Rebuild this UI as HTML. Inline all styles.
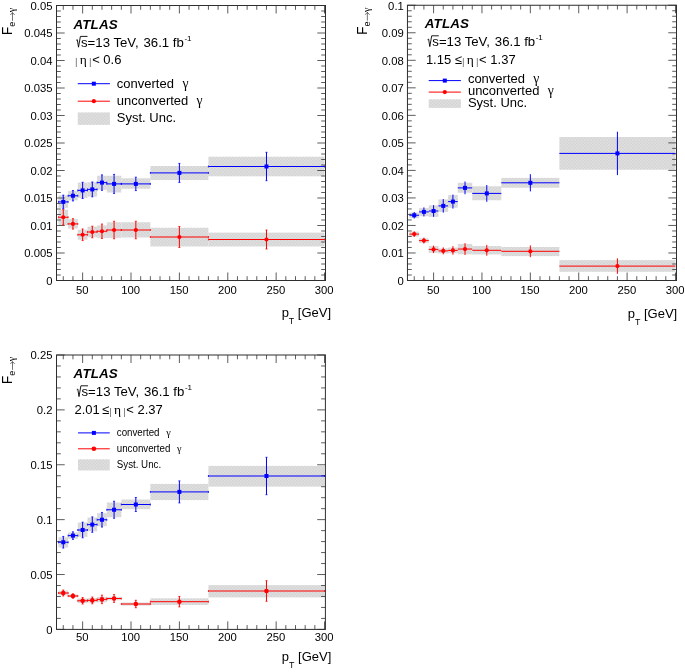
<!DOCTYPE html>
<html><head><meta charset="utf-8"><title>Electron to photon fake rates</title>
<style>html,body{margin:0;padding:0;background:#fff;}svg{display:block;}</style></head><body>
<svg width="685" height="672" viewBox="0 0 685 672" style="will-change:transform;opacity:0.999">
<defs><pattern id="hat" width="3.2" height="3.2" patternUnits="userSpaceOnUse"><rect width="3.2" height="3.2" fill="#d5d5d5"/><rect width="1.6" height="1.6" fill="#dfdfdf"/><rect x="1.6" y="1.6" width="1.6" height="1.6" fill="#dfdfdf"/></pattern></defs>
<rect width="685" height="672" fill="#fff"/>
<g>
<rect x="58.44" y="195.4" width="9.68" height="12.5" fill="url(#hat)"/>
<rect x="68.11" y="191" width="9.68" height="9.4" fill="url(#hat)"/>
<rect x="77.79" y="182.6" width="9.68" height="15.3" fill="url(#hat)"/>
<rect x="87.46" y="182.25" width="9.68" height="14.35" fill="url(#hat)"/>
<rect x="97.14" y="175.75" width="9.68" height="14" fill="url(#hat)"/>
<rect x="106.82" y="175.75" width="14.51" height="16.75" fill="url(#hat)"/>
<rect x="121.33" y="178.25" width="29.03" height="10.5" fill="url(#hat)"/>
<rect x="150.36" y="166" width="58.06" height="14" fill="url(#hat)"/>
<rect x="208.41" y="156.7" width="116.11" height="19.6" fill="url(#hat)"/>
<rect x="58.44" y="209.75" width="9.68" height="15.65" fill="url(#hat)"/>
<rect x="68.11" y="219.1" width="9.68" height="9.4" fill="url(#hat)"/>
<rect x="77.79" y="229.75" width="9.68" height="10" fill="url(#hat)"/>
<rect x="87.46" y="226.6" width="9.68" height="10.65" fill="url(#hat)"/>
<rect x="97.14" y="225.4" width="9.68" height="12.5" fill="url(#hat)"/>
<rect x="106.82" y="222.25" width="14.51" height="15.65" fill="url(#hat)"/>
<rect x="121.33" y="222.25" width="29.03" height="15.25" fill="url(#hat)"/>
<rect x="150.36" y="227.75" width="58.06" height="18.75" fill="url(#hat)"/>
<rect x="208.41" y="232.6" width="116.11" height="13.9" fill="url(#hat)"/>
<rect x="56.5" y="5.5" width="269" height="275" fill="none" stroke="#2e2e2e" stroke-width="1.0"/>
<line x1="63.27" y1="280.5" x2="63.27" y2="276.2" stroke="#2e2e2e" stroke-width="0.78" />
<line x1="63.27" y1="5.5" x2="63.27" y2="9.8" stroke="#2e2e2e" stroke-width="0.78" />
<line x1="72.95" y1="280.5" x2="72.95" y2="276.2" stroke="#2e2e2e" stroke-width="0.78" />
<line x1="72.95" y1="5.5" x2="72.95" y2="9.8" stroke="#2e2e2e" stroke-width="0.78" />
<line x1="82.63" y1="280.5" x2="82.63" y2="272.5" stroke="#2e2e2e" stroke-width="0.78" />
<line x1="82.63" y1="5.5" x2="82.63" y2="13.5" stroke="#2e2e2e" stroke-width="0.78" />
<line x1="92.3" y1="280.5" x2="92.3" y2="276.2" stroke="#2e2e2e" stroke-width="0.78" />
<line x1="92.3" y1="5.5" x2="92.3" y2="9.8" stroke="#2e2e2e" stroke-width="0.78" />
<line x1="101.98" y1="280.5" x2="101.98" y2="276.2" stroke="#2e2e2e" stroke-width="0.78" />
<line x1="101.98" y1="5.5" x2="101.98" y2="9.8" stroke="#2e2e2e" stroke-width="0.78" />
<line x1="111.65" y1="280.5" x2="111.65" y2="276.2" stroke="#2e2e2e" stroke-width="0.78" />
<line x1="111.65" y1="5.5" x2="111.65" y2="9.8" stroke="#2e2e2e" stroke-width="0.78" />
<line x1="121.33" y1="280.5" x2="121.33" y2="276.2" stroke="#2e2e2e" stroke-width="0.78" />
<line x1="121.33" y1="5.5" x2="121.33" y2="9.8" stroke="#2e2e2e" stroke-width="0.78" />
<line x1="131.01" y1="280.5" x2="131.01" y2="272.5" stroke="#2e2e2e" stroke-width="0.78" />
<line x1="131.01" y1="5.5" x2="131.01" y2="13.5" stroke="#2e2e2e" stroke-width="0.78" />
<line x1="140.68" y1="280.5" x2="140.68" y2="276.2" stroke="#2e2e2e" stroke-width="0.78" />
<line x1="140.68" y1="5.5" x2="140.68" y2="9.8" stroke="#2e2e2e" stroke-width="0.78" />
<line x1="150.36" y1="280.5" x2="150.36" y2="276.2" stroke="#2e2e2e" stroke-width="0.78" />
<line x1="150.36" y1="5.5" x2="150.36" y2="9.8" stroke="#2e2e2e" stroke-width="0.78" />
<line x1="160.03" y1="280.5" x2="160.03" y2="276.2" stroke="#2e2e2e" stroke-width="0.78" />
<line x1="160.03" y1="5.5" x2="160.03" y2="9.8" stroke="#2e2e2e" stroke-width="0.78" />
<line x1="169.71" y1="280.5" x2="169.71" y2="276.2" stroke="#2e2e2e" stroke-width="0.78" />
<line x1="169.71" y1="5.5" x2="169.71" y2="9.8" stroke="#2e2e2e" stroke-width="0.78" />
<line x1="179.39" y1="280.5" x2="179.39" y2="272.5" stroke="#2e2e2e" stroke-width="0.78" />
<line x1="179.39" y1="5.5" x2="179.39" y2="13.5" stroke="#2e2e2e" stroke-width="0.78" />
<line x1="189.06" y1="280.5" x2="189.06" y2="276.2" stroke="#2e2e2e" stroke-width="0.78" />
<line x1="189.06" y1="5.5" x2="189.06" y2="9.8" stroke="#2e2e2e" stroke-width="0.78" />
<line x1="198.74" y1="280.5" x2="198.74" y2="276.2" stroke="#2e2e2e" stroke-width="0.78" />
<line x1="198.74" y1="5.5" x2="198.74" y2="9.8" stroke="#2e2e2e" stroke-width="0.78" />
<line x1="208.41" y1="280.5" x2="208.41" y2="276.2" stroke="#2e2e2e" stroke-width="0.78" />
<line x1="208.41" y1="5.5" x2="208.41" y2="9.8" stroke="#2e2e2e" stroke-width="0.78" />
<line x1="218.09" y1="280.5" x2="218.09" y2="276.2" stroke="#2e2e2e" stroke-width="0.78" />
<line x1="218.09" y1="5.5" x2="218.09" y2="9.8" stroke="#2e2e2e" stroke-width="0.78" />
<line x1="227.77" y1="280.5" x2="227.77" y2="272.5" stroke="#2e2e2e" stroke-width="0.78" />
<line x1="227.77" y1="5.5" x2="227.77" y2="13.5" stroke="#2e2e2e" stroke-width="0.78" />
<line x1="237.44" y1="280.5" x2="237.44" y2="276.2" stroke="#2e2e2e" stroke-width="0.78" />
<line x1="237.44" y1="5.5" x2="237.44" y2="9.8" stroke="#2e2e2e" stroke-width="0.78" />
<line x1="247.12" y1="280.5" x2="247.12" y2="276.2" stroke="#2e2e2e" stroke-width="0.78" />
<line x1="247.12" y1="5.5" x2="247.12" y2="9.8" stroke="#2e2e2e" stroke-width="0.78" />
<line x1="256.79" y1="280.5" x2="256.79" y2="276.2" stroke="#2e2e2e" stroke-width="0.78" />
<line x1="256.79" y1="5.5" x2="256.79" y2="9.8" stroke="#2e2e2e" stroke-width="0.78" />
<line x1="266.47" y1="280.5" x2="266.47" y2="276.2" stroke="#2e2e2e" stroke-width="0.78" />
<line x1="266.47" y1="5.5" x2="266.47" y2="9.8" stroke="#2e2e2e" stroke-width="0.78" />
<line x1="276.15" y1="280.5" x2="276.15" y2="272.5" stroke="#2e2e2e" stroke-width="0.78" />
<line x1="276.15" y1="5.5" x2="276.15" y2="13.5" stroke="#2e2e2e" stroke-width="0.78" />
<line x1="285.82" y1="280.5" x2="285.82" y2="276.2" stroke="#2e2e2e" stroke-width="0.78" />
<line x1="285.82" y1="5.5" x2="285.82" y2="9.8" stroke="#2e2e2e" stroke-width="0.78" />
<line x1="295.5" y1="280.5" x2="295.5" y2="276.2" stroke="#2e2e2e" stroke-width="0.78" />
<line x1="295.5" y1="5.5" x2="295.5" y2="9.8" stroke="#2e2e2e" stroke-width="0.78" />
<line x1="305.17" y1="280.5" x2="305.17" y2="276.2" stroke="#2e2e2e" stroke-width="0.78" />
<line x1="305.17" y1="5.5" x2="305.17" y2="9.8" stroke="#2e2e2e" stroke-width="0.78" />
<line x1="314.85" y1="280.5" x2="314.85" y2="276.2" stroke="#2e2e2e" stroke-width="0.78" />
<line x1="314.85" y1="5.5" x2="314.85" y2="9.8" stroke="#2e2e2e" stroke-width="0.78" />
<line x1="324.53" y1="280.5" x2="324.53" y2="272.5" stroke="#2e2e2e" stroke-width="0.78" />
<line x1="324.53" y1="5.5" x2="324.53" y2="13.5" stroke="#2e2e2e" stroke-width="0.78" />
<line x1="56.5" y1="280.5" x2="64.7" y2="280.5" stroke="#2e2e2e" stroke-width="0.78" />
<line x1="325.5" y1="280.5" x2="317.3" y2="280.5" stroke="#2e2e2e" stroke-width="0.78" />
<line x1="56.5" y1="275" x2="60.8" y2="275" stroke="#2e2e2e" stroke-width="0.78" />
<line x1="325.5" y1="275" x2="321.2" y2="275" stroke="#2e2e2e" stroke-width="0.78" />
<line x1="56.5" y1="269.5" x2="60.8" y2="269.5" stroke="#2e2e2e" stroke-width="0.78" />
<line x1="325.5" y1="269.5" x2="321.2" y2="269.5" stroke="#2e2e2e" stroke-width="0.78" />
<line x1="56.5" y1="264" x2="60.8" y2="264" stroke="#2e2e2e" stroke-width="0.78" />
<line x1="325.5" y1="264" x2="321.2" y2="264" stroke="#2e2e2e" stroke-width="0.78" />
<line x1="56.5" y1="258.5" x2="60.8" y2="258.5" stroke="#2e2e2e" stroke-width="0.78" />
<line x1="325.5" y1="258.5" x2="321.2" y2="258.5" stroke="#2e2e2e" stroke-width="0.78" />
<text transform="translate(52.5,284.75) scale(1,1.02)" font-family='"Liberation Sans", sans-serif' font-size="11.3" text-anchor="end" font-weight="normal" font-style="normal" fill="#000" >0</text>
<line x1="56.5" y1="253" x2="64.7" y2="253" stroke="#2e2e2e" stroke-width="0.78" />
<line x1="325.5" y1="253" x2="317.3" y2="253" stroke="#2e2e2e" stroke-width="0.78" />
<line x1="56.5" y1="247.5" x2="60.8" y2="247.5" stroke="#2e2e2e" stroke-width="0.78" />
<line x1="325.5" y1="247.5" x2="321.2" y2="247.5" stroke="#2e2e2e" stroke-width="0.78" />
<line x1="56.5" y1="242" x2="60.8" y2="242" stroke="#2e2e2e" stroke-width="0.78" />
<line x1="325.5" y1="242" x2="321.2" y2="242" stroke="#2e2e2e" stroke-width="0.78" />
<line x1="56.5" y1="236.5" x2="60.8" y2="236.5" stroke="#2e2e2e" stroke-width="0.78" />
<line x1="325.5" y1="236.5" x2="321.2" y2="236.5" stroke="#2e2e2e" stroke-width="0.78" />
<line x1="56.5" y1="231" x2="60.8" y2="231" stroke="#2e2e2e" stroke-width="0.78" />
<line x1="325.5" y1="231" x2="321.2" y2="231" stroke="#2e2e2e" stroke-width="0.78" />
<text transform="translate(52.5,257.25) scale(1,1.02)" font-family='"Liberation Sans", sans-serif' font-size="11.3" text-anchor="end" font-weight="normal" font-style="normal" fill="#000" >0.005</text>
<line x1="56.5" y1="225.5" x2="64.7" y2="225.5" stroke="#2e2e2e" stroke-width="0.78" />
<line x1="325.5" y1="225.5" x2="317.3" y2="225.5" stroke="#2e2e2e" stroke-width="0.78" />
<line x1="56.5" y1="220" x2="60.8" y2="220" stroke="#2e2e2e" stroke-width="0.78" />
<line x1="325.5" y1="220" x2="321.2" y2="220" stroke="#2e2e2e" stroke-width="0.78" />
<line x1="56.5" y1="214.5" x2="60.8" y2="214.5" stroke="#2e2e2e" stroke-width="0.78" />
<line x1="325.5" y1="214.5" x2="321.2" y2="214.5" stroke="#2e2e2e" stroke-width="0.78" />
<line x1="56.5" y1="209" x2="60.8" y2="209" stroke="#2e2e2e" stroke-width="0.78" />
<line x1="325.5" y1="209" x2="321.2" y2="209" stroke="#2e2e2e" stroke-width="0.78" />
<line x1="56.5" y1="203.5" x2="60.8" y2="203.5" stroke="#2e2e2e" stroke-width="0.78" />
<line x1="325.5" y1="203.5" x2="321.2" y2="203.5" stroke="#2e2e2e" stroke-width="0.78" />
<text transform="translate(52.5,229.75) scale(1,1.02)" font-family='"Liberation Sans", sans-serif' font-size="11.3" text-anchor="end" font-weight="normal" font-style="normal" fill="#000" >0.01</text>
<line x1="56.5" y1="198" x2="64.7" y2="198" stroke="#2e2e2e" stroke-width="0.78" />
<line x1="325.5" y1="198" x2="317.3" y2="198" stroke="#2e2e2e" stroke-width="0.78" />
<line x1="56.5" y1="192.5" x2="60.8" y2="192.5" stroke="#2e2e2e" stroke-width="0.78" />
<line x1="325.5" y1="192.5" x2="321.2" y2="192.5" stroke="#2e2e2e" stroke-width="0.78" />
<line x1="56.5" y1="187" x2="60.8" y2="187" stroke="#2e2e2e" stroke-width="0.78" />
<line x1="325.5" y1="187" x2="321.2" y2="187" stroke="#2e2e2e" stroke-width="0.78" />
<line x1="56.5" y1="181.5" x2="60.8" y2="181.5" stroke="#2e2e2e" stroke-width="0.78" />
<line x1="325.5" y1="181.5" x2="321.2" y2="181.5" stroke="#2e2e2e" stroke-width="0.78" />
<line x1="56.5" y1="176" x2="60.8" y2="176" stroke="#2e2e2e" stroke-width="0.78" />
<line x1="325.5" y1="176" x2="321.2" y2="176" stroke="#2e2e2e" stroke-width="0.78" />
<text transform="translate(52.5,202.25) scale(1,1.02)" font-family='"Liberation Sans", sans-serif' font-size="11.3" text-anchor="end" font-weight="normal" font-style="normal" fill="#000" >0.015</text>
<line x1="56.5" y1="170.5" x2="64.7" y2="170.5" stroke="#2e2e2e" stroke-width="0.78" />
<line x1="325.5" y1="170.5" x2="317.3" y2="170.5" stroke="#2e2e2e" stroke-width="0.78" />
<line x1="56.5" y1="165" x2="60.8" y2="165" stroke="#2e2e2e" stroke-width="0.78" />
<line x1="325.5" y1="165" x2="321.2" y2="165" stroke="#2e2e2e" stroke-width="0.78" />
<line x1="56.5" y1="159.5" x2="60.8" y2="159.5" stroke="#2e2e2e" stroke-width="0.78" />
<line x1="325.5" y1="159.5" x2="321.2" y2="159.5" stroke="#2e2e2e" stroke-width="0.78" />
<line x1="56.5" y1="154" x2="60.8" y2="154" stroke="#2e2e2e" stroke-width="0.78" />
<line x1="325.5" y1="154" x2="321.2" y2="154" stroke="#2e2e2e" stroke-width="0.78" />
<line x1="56.5" y1="148.5" x2="60.8" y2="148.5" stroke="#2e2e2e" stroke-width="0.78" />
<line x1="325.5" y1="148.5" x2="321.2" y2="148.5" stroke="#2e2e2e" stroke-width="0.78" />
<text transform="translate(52.5,174.75) scale(1,1.02)" font-family='"Liberation Sans", sans-serif' font-size="11.3" text-anchor="end" font-weight="normal" font-style="normal" fill="#000" >0.02</text>
<line x1="56.5" y1="143" x2="64.7" y2="143" stroke="#2e2e2e" stroke-width="0.78" />
<line x1="325.5" y1="143" x2="317.3" y2="143" stroke="#2e2e2e" stroke-width="0.78" />
<line x1="56.5" y1="137.5" x2="60.8" y2="137.5" stroke="#2e2e2e" stroke-width="0.78" />
<line x1="325.5" y1="137.5" x2="321.2" y2="137.5" stroke="#2e2e2e" stroke-width="0.78" />
<line x1="56.5" y1="132" x2="60.8" y2="132" stroke="#2e2e2e" stroke-width="0.78" />
<line x1="325.5" y1="132" x2="321.2" y2="132" stroke="#2e2e2e" stroke-width="0.78" />
<line x1="56.5" y1="126.5" x2="60.8" y2="126.5" stroke="#2e2e2e" stroke-width="0.78" />
<line x1="325.5" y1="126.5" x2="321.2" y2="126.5" stroke="#2e2e2e" stroke-width="0.78" />
<line x1="56.5" y1="121" x2="60.8" y2="121" stroke="#2e2e2e" stroke-width="0.78" />
<line x1="325.5" y1="121" x2="321.2" y2="121" stroke="#2e2e2e" stroke-width="0.78" />
<text transform="translate(52.5,147.25) scale(1,1.02)" font-family='"Liberation Sans", sans-serif' font-size="11.3" text-anchor="end" font-weight="normal" font-style="normal" fill="#000" >0.025</text>
<line x1="56.5" y1="115.5" x2="64.7" y2="115.5" stroke="#2e2e2e" stroke-width="0.78" />
<line x1="325.5" y1="115.5" x2="317.3" y2="115.5" stroke="#2e2e2e" stroke-width="0.78" />
<line x1="56.5" y1="110" x2="60.8" y2="110" stroke="#2e2e2e" stroke-width="0.78" />
<line x1="325.5" y1="110" x2="321.2" y2="110" stroke="#2e2e2e" stroke-width="0.78" />
<line x1="56.5" y1="104.5" x2="60.8" y2="104.5" stroke="#2e2e2e" stroke-width="0.78" />
<line x1="325.5" y1="104.5" x2="321.2" y2="104.5" stroke="#2e2e2e" stroke-width="0.78" />
<line x1="56.5" y1="99" x2="60.8" y2="99" stroke="#2e2e2e" stroke-width="0.78" />
<line x1="325.5" y1="99" x2="321.2" y2="99" stroke="#2e2e2e" stroke-width="0.78" />
<line x1="56.5" y1="93.5" x2="60.8" y2="93.5" stroke="#2e2e2e" stroke-width="0.78" />
<line x1="325.5" y1="93.5" x2="321.2" y2="93.5" stroke="#2e2e2e" stroke-width="0.78" />
<text transform="translate(52.5,119.75) scale(1,1.02)" font-family='"Liberation Sans", sans-serif' font-size="11.3" text-anchor="end" font-weight="normal" font-style="normal" fill="#000" >0.03</text>
<line x1="56.5" y1="88" x2="64.7" y2="88" stroke="#2e2e2e" stroke-width="0.78" />
<line x1="325.5" y1="88" x2="317.3" y2="88" stroke="#2e2e2e" stroke-width="0.78" />
<line x1="56.5" y1="82.5" x2="60.8" y2="82.5" stroke="#2e2e2e" stroke-width="0.78" />
<line x1="325.5" y1="82.5" x2="321.2" y2="82.5" stroke="#2e2e2e" stroke-width="0.78" />
<line x1="56.5" y1="77" x2="60.8" y2="77" stroke="#2e2e2e" stroke-width="0.78" />
<line x1="325.5" y1="77" x2="321.2" y2="77" stroke="#2e2e2e" stroke-width="0.78" />
<line x1="56.5" y1="71.5" x2="60.8" y2="71.5" stroke="#2e2e2e" stroke-width="0.78" />
<line x1="325.5" y1="71.5" x2="321.2" y2="71.5" stroke="#2e2e2e" stroke-width="0.78" />
<line x1="56.5" y1="66" x2="60.8" y2="66" stroke="#2e2e2e" stroke-width="0.78" />
<line x1="325.5" y1="66" x2="321.2" y2="66" stroke="#2e2e2e" stroke-width="0.78" />
<text transform="translate(52.5,92.25) scale(1,1.02)" font-family='"Liberation Sans", sans-serif' font-size="11.3" text-anchor="end" font-weight="normal" font-style="normal" fill="#000" >0.035</text>
<line x1="56.5" y1="60.5" x2="64.7" y2="60.5" stroke="#2e2e2e" stroke-width="0.78" />
<line x1="325.5" y1="60.5" x2="317.3" y2="60.5" stroke="#2e2e2e" stroke-width="0.78" />
<line x1="56.5" y1="55" x2="60.8" y2="55" stroke="#2e2e2e" stroke-width="0.78" />
<line x1="325.5" y1="55" x2="321.2" y2="55" stroke="#2e2e2e" stroke-width="0.78" />
<line x1="56.5" y1="49.5" x2="60.8" y2="49.5" stroke="#2e2e2e" stroke-width="0.78" />
<line x1="325.5" y1="49.5" x2="321.2" y2="49.5" stroke="#2e2e2e" stroke-width="0.78" />
<line x1="56.5" y1="44" x2="60.8" y2="44" stroke="#2e2e2e" stroke-width="0.78" />
<line x1="325.5" y1="44" x2="321.2" y2="44" stroke="#2e2e2e" stroke-width="0.78" />
<line x1="56.5" y1="38.5" x2="60.8" y2="38.5" stroke="#2e2e2e" stroke-width="0.78" />
<line x1="325.5" y1="38.5" x2="321.2" y2="38.5" stroke="#2e2e2e" stroke-width="0.78" />
<text transform="translate(52.5,64.75) scale(1,1.02)" font-family='"Liberation Sans", sans-serif' font-size="11.3" text-anchor="end" font-weight="normal" font-style="normal" fill="#000" >0.04</text>
<line x1="56.5" y1="33" x2="64.7" y2="33" stroke="#2e2e2e" stroke-width="0.78" />
<line x1="325.5" y1="33" x2="317.3" y2="33" stroke="#2e2e2e" stroke-width="0.78" />
<line x1="56.5" y1="27.5" x2="60.8" y2="27.5" stroke="#2e2e2e" stroke-width="0.78" />
<line x1="325.5" y1="27.5" x2="321.2" y2="27.5" stroke="#2e2e2e" stroke-width="0.78" />
<line x1="56.5" y1="22" x2="60.8" y2="22" stroke="#2e2e2e" stroke-width="0.78" />
<line x1="325.5" y1="22" x2="321.2" y2="22" stroke="#2e2e2e" stroke-width="0.78" />
<line x1="56.5" y1="16.5" x2="60.8" y2="16.5" stroke="#2e2e2e" stroke-width="0.78" />
<line x1="325.5" y1="16.5" x2="321.2" y2="16.5" stroke="#2e2e2e" stroke-width="0.78" />
<line x1="56.5" y1="11" x2="60.8" y2="11" stroke="#2e2e2e" stroke-width="0.78" />
<line x1="325.5" y1="11" x2="321.2" y2="11" stroke="#2e2e2e" stroke-width="0.78" />
<text transform="translate(52.5,37.25) scale(1,1.02)" font-family='"Liberation Sans", sans-serif' font-size="11.3" text-anchor="end" font-weight="normal" font-style="normal" fill="#000" >0.045</text>
<line x1="56.5" y1="5.5" x2="64.7" y2="5.5" stroke="#2e2e2e" stroke-width="0.78" />
<line x1="325.5" y1="5.5" x2="317.3" y2="5.5" stroke="#2e2e2e" stroke-width="0.78" />
<text transform="translate(52.5,9.75) scale(1,1.02)" font-family='"Liberation Sans", sans-serif' font-size="11.3" text-anchor="end" font-weight="normal" font-style="normal" fill="#000" >0.05</text>
<text transform="translate(82.33,294.3) scale(1,1.02)" font-family='"Liberation Sans", sans-serif' font-size="11.3" text-anchor="middle" font-weight="normal" font-style="normal" fill="#000" >50</text>
<text transform="translate(130.71,294.3) scale(1,1.02)" font-family='"Liberation Sans", sans-serif' font-size="11.3" text-anchor="middle" font-weight="normal" font-style="normal" fill="#000" >100</text>
<text transform="translate(179.09,294.3) scale(1,1.02)" font-family='"Liberation Sans", sans-serif' font-size="11.3" text-anchor="middle" font-weight="normal" font-style="normal" fill="#000" >150</text>
<text transform="translate(227.47,294.3) scale(1,1.02)" font-family='"Liberation Sans", sans-serif' font-size="11.3" text-anchor="middle" font-weight="normal" font-style="normal" fill="#000" >200</text>
<text transform="translate(275.85,294.3) scale(1,1.02)" font-family='"Liberation Sans", sans-serif' font-size="11.3" text-anchor="middle" font-weight="normal" font-style="normal" fill="#000" >250</text>
<text transform="translate(324.23,294.3) scale(1,1.02)" font-family='"Liberation Sans", sans-serif' font-size="11.3" text-anchor="middle" font-weight="normal" font-style="normal" fill="#000" >300</text>
<text x="331.1" y="317" font-family='"Liberation Sans", sans-serif' font-size="13" text-anchor="end" fill="#000">p<tspan font-size="8.8" dy="6.8">T</tspan><tspan dy="-6.8"> [GeV]</tspan></text>
<g transform="translate(11.9,34.9) rotate(-90)">
<text transform="scale(1,1.08)" x="0" y="0" font-family='"Liberation Sans", sans-serif' font-size="13.5" fill="#000">F</text>
<text x="8.2" y="3.5" font-family='"Liberation Sans", sans-serif' font-size="9.2" fill="#000">e</text>
<path d="M14.0 0.6 L22.3 0.6 M19.9 -1.6 L22.3 0.6 L19.9 2.8" fill="none" stroke="#000" stroke-width="0.55"/>
<text x="22.6" y="3.5" font-family='"Liberation Serif", serif' font-size="10" fill="#000">γ</text>
</g>
<line x1="58.44" y1="201.9" x2="68.11" y2="201.9" stroke="#0000ff" stroke-width="1.0" />
<line x1="63.27" y1="195.15" x2="63.27" y2="208.65" stroke="#0000ff" stroke-width="1.0" />
<line x1="58.44" y1="200.9" x2="58.44" y2="202.9" stroke="#0000ff" stroke-width="0.8" />
<line x1="68.11" y1="200.9" x2="68.11" y2="202.9" stroke="#0000ff" stroke-width="0.8" />
<line x1="62.27" y1="195.15" x2="64.27" y2="195.15" stroke="#0000ff" stroke-width="0.8" />
<line x1="62.27" y1="208.65" x2="64.27" y2="208.65" stroke="#0000ff" stroke-width="0.8" />
<rect x="61.27" y="199.9" width="4" height="4" fill="#0000ff"/>
<line x1="68.11" y1="195.75" x2="77.79" y2="195.75" stroke="#0000ff" stroke-width="1.0" />
<line x1="72.95" y1="190.55" x2="72.95" y2="200.95" stroke="#0000ff" stroke-width="1.0" />
<line x1="68.11" y1="194.75" x2="68.11" y2="196.75" stroke="#0000ff" stroke-width="0.8" />
<line x1="77.79" y1="194.75" x2="77.79" y2="196.75" stroke="#0000ff" stroke-width="0.8" />
<line x1="71.95" y1="190.55" x2="73.95" y2="190.55" stroke="#0000ff" stroke-width="0.8" />
<line x1="71.95" y1="200.95" x2="73.95" y2="200.95" stroke="#0000ff" stroke-width="0.8" />
<rect x="70.95" y="193.75" width="4" height="4" fill="#0000ff"/>
<line x1="77.79" y1="190.4" x2="87.46" y2="190.4" stroke="#0000ff" stroke-width="1.0" />
<line x1="82.63" y1="182.3" x2="82.63" y2="198.5" stroke="#0000ff" stroke-width="1.0" />
<line x1="77.79" y1="189.4" x2="77.79" y2="191.4" stroke="#0000ff" stroke-width="0.8" />
<line x1="87.46" y1="189.4" x2="87.46" y2="191.4" stroke="#0000ff" stroke-width="0.8" />
<line x1="81.63" y1="182.3" x2="83.63" y2="182.3" stroke="#0000ff" stroke-width="0.8" />
<line x1="81.63" y1="198.5" x2="83.63" y2="198.5" stroke="#0000ff" stroke-width="0.8" />
<rect x="80.63" y="188.4" width="4" height="4" fill="#0000ff"/>
<line x1="87.46" y1="189.4" x2="97.14" y2="189.4" stroke="#0000ff" stroke-width="1.0" />
<line x1="92.3" y1="182" x2="92.3" y2="196.8" stroke="#0000ff" stroke-width="1.0" />
<line x1="87.46" y1="188.4" x2="87.46" y2="190.4" stroke="#0000ff" stroke-width="0.8" />
<line x1="97.14" y1="188.4" x2="97.14" y2="190.4" stroke="#0000ff" stroke-width="0.8" />
<line x1="91.3" y1="182" x2="93.3" y2="182" stroke="#0000ff" stroke-width="0.8" />
<line x1="91.3" y1="196.8" x2="93.3" y2="196.8" stroke="#0000ff" stroke-width="0.8" />
<rect x="90.3" y="187.4" width="4" height="4" fill="#0000ff"/>
<line x1="97.14" y1="182.6" x2="106.82" y2="182.6" stroke="#0000ff" stroke-width="1.0" />
<line x1="101.98" y1="174.9" x2="101.98" y2="190.3" stroke="#0000ff" stroke-width="1.0" />
<line x1="97.14" y1="181.6" x2="97.14" y2="183.6" stroke="#0000ff" stroke-width="0.8" />
<line x1="106.82" y1="181.6" x2="106.82" y2="183.6" stroke="#0000ff" stroke-width="0.8" />
<line x1="100.98" y1="174.9" x2="102.98" y2="174.9" stroke="#0000ff" stroke-width="0.8" />
<line x1="100.98" y1="190.3" x2="102.98" y2="190.3" stroke="#0000ff" stroke-width="0.8" />
<rect x="99.98" y="180.6" width="4" height="4" fill="#0000ff"/>
<line x1="106.82" y1="183.9" x2="121.33" y2="183.9" stroke="#0000ff" stroke-width="1.0" />
<line x1="114.07" y1="174.4" x2="114.07" y2="193.4" stroke="#0000ff" stroke-width="1.0" />
<line x1="106.82" y1="182.9" x2="106.82" y2="184.9" stroke="#0000ff" stroke-width="0.8" />
<line x1="121.33" y1="182.9" x2="121.33" y2="184.9" stroke="#0000ff" stroke-width="0.8" />
<line x1="113.07" y1="174.4" x2="115.07" y2="174.4" stroke="#0000ff" stroke-width="0.8" />
<line x1="113.07" y1="193.4" x2="115.07" y2="193.4" stroke="#0000ff" stroke-width="0.8" />
<rect x="112.07" y="181.9" width="4" height="4" fill="#0000ff"/>
<line x1="121.33" y1="183.9" x2="150.36" y2="183.9" stroke="#0000ff" stroke-width="1.0" />
<line x1="135.84" y1="177.2" x2="135.84" y2="190.6" stroke="#0000ff" stroke-width="1.0" />
<line x1="121.33" y1="182.9" x2="121.33" y2="184.9" stroke="#0000ff" stroke-width="0.8" />
<line x1="150.36" y1="182.9" x2="150.36" y2="184.9" stroke="#0000ff" stroke-width="0.8" />
<line x1="134.84" y1="177.2" x2="136.84" y2="177.2" stroke="#0000ff" stroke-width="0.8" />
<line x1="134.84" y1="190.6" x2="136.84" y2="190.6" stroke="#0000ff" stroke-width="0.8" />
<rect x="133.84" y="181.9" width="4" height="4" fill="#0000ff"/>
<line x1="150.36" y1="172.9" x2="208.41" y2="172.9" stroke="#0000ff" stroke-width="1.0" />
<line x1="179.39" y1="163.4" x2="179.39" y2="182.4" stroke="#0000ff" stroke-width="1.0" />
<line x1="150.36" y1="171.9" x2="150.36" y2="173.9" stroke="#0000ff" stroke-width="0.8" />
<line x1="208.41" y1="171.9" x2="208.41" y2="173.9" stroke="#0000ff" stroke-width="0.8" />
<line x1="178.39" y1="163.4" x2="180.39" y2="163.4" stroke="#0000ff" stroke-width="0.8" />
<line x1="178.39" y1="182.4" x2="180.39" y2="182.4" stroke="#0000ff" stroke-width="0.8" />
<rect x="177.39" y="170.9" width="4" height="4" fill="#0000ff"/>
<line x1="208.41" y1="166.5" x2="324.53" y2="166.5" stroke="#0000ff" stroke-width="1.0" />
<line x1="266.47" y1="152.3" x2="266.47" y2="180.7" stroke="#0000ff" stroke-width="1.0" />
<line x1="208.41" y1="165.5" x2="208.41" y2="167.5" stroke="#0000ff" stroke-width="0.8" />
<line x1="324.53" y1="165.5" x2="324.53" y2="167.5" stroke="#0000ff" stroke-width="0.8" />
<line x1="265.47" y1="152.3" x2="267.47" y2="152.3" stroke="#0000ff" stroke-width="0.8" />
<line x1="265.47" y1="180.7" x2="267.47" y2="180.7" stroke="#0000ff" stroke-width="0.8" />
<rect x="264.47" y="164.5" width="4" height="4" fill="#0000ff"/>
<line x1="58.44" y1="217.25" x2="68.11" y2="217.25" stroke="#ff0000" stroke-width="1.0" />
<line x1="63.27" y1="209.65" x2="63.27" y2="224.85" stroke="#ff0000" stroke-width="1.0" />
<line x1="58.44" y1="216.25" x2="58.44" y2="218.25" stroke="#ff0000" stroke-width="0.8" />
<line x1="68.11" y1="216.25" x2="68.11" y2="218.25" stroke="#ff0000" stroke-width="0.8" />
<line x1="62.27" y1="209.65" x2="64.27" y2="209.65" stroke="#ff0000" stroke-width="0.8" />
<line x1="62.27" y1="224.85" x2="64.27" y2="224.85" stroke="#ff0000" stroke-width="0.8" />
<circle cx="63.27" cy="217.25" r="2.1" fill="#ff0000"/>
<line x1="68.11" y1="223.9" x2="77.79" y2="223.9" stroke="#ff0000" stroke-width="1.0" />
<line x1="72.95" y1="218.7" x2="72.95" y2="229.1" stroke="#ff0000" stroke-width="1.0" />
<line x1="68.11" y1="222.9" x2="68.11" y2="224.9" stroke="#ff0000" stroke-width="0.8" />
<line x1="77.79" y1="222.9" x2="77.79" y2="224.9" stroke="#ff0000" stroke-width="0.8" />
<line x1="71.95" y1="218.7" x2="73.95" y2="218.7" stroke="#ff0000" stroke-width="0.8" />
<line x1="71.95" y1="229.1" x2="73.95" y2="229.1" stroke="#ff0000" stroke-width="0.8" />
<circle cx="72.95" cy="223.9" r="2.1" fill="#ff0000"/>
<line x1="77.79" y1="234.75" x2="87.46" y2="234.75" stroke="#ff0000" stroke-width="1.0" />
<line x1="82.63" y1="228.95" x2="82.63" y2="240.55" stroke="#ff0000" stroke-width="1.0" />
<line x1="77.79" y1="233.75" x2="77.79" y2="235.75" stroke="#ff0000" stroke-width="0.8" />
<line x1="87.46" y1="233.75" x2="87.46" y2="235.75" stroke="#ff0000" stroke-width="0.8" />
<line x1="81.63" y1="228.95" x2="83.63" y2="228.95" stroke="#ff0000" stroke-width="0.8" />
<line x1="81.63" y1="240.55" x2="83.63" y2="240.55" stroke="#ff0000" stroke-width="0.8" />
<circle cx="82.63" cy="234.75" r="2.1" fill="#ff0000"/>
<line x1="87.46" y1="232" x2="97.14" y2="232" stroke="#ff0000" stroke-width="1.0" />
<line x1="92.3" y1="226.2" x2="92.3" y2="237.8" stroke="#ff0000" stroke-width="1.0" />
<line x1="87.46" y1="231" x2="87.46" y2="233" stroke="#ff0000" stroke-width="0.8" />
<line x1="97.14" y1="231" x2="97.14" y2="233" stroke="#ff0000" stroke-width="0.8" />
<line x1="91.3" y1="226.2" x2="93.3" y2="226.2" stroke="#ff0000" stroke-width="0.8" />
<line x1="91.3" y1="237.8" x2="93.3" y2="237.8" stroke="#ff0000" stroke-width="0.8" />
<circle cx="92.3" cy="232" r="2.1" fill="#ff0000"/>
<line x1="97.14" y1="231.25" x2="106.82" y2="231.25" stroke="#ff0000" stroke-width="1.0" />
<line x1="101.98" y1="224.05" x2="101.98" y2="238.45" stroke="#ff0000" stroke-width="1.0" />
<line x1="97.14" y1="230.25" x2="97.14" y2="232.25" stroke="#ff0000" stroke-width="0.8" />
<line x1="106.82" y1="230.25" x2="106.82" y2="232.25" stroke="#ff0000" stroke-width="0.8" />
<line x1="100.98" y1="224.05" x2="102.98" y2="224.05" stroke="#ff0000" stroke-width="0.8" />
<line x1="100.98" y1="238.45" x2="102.98" y2="238.45" stroke="#ff0000" stroke-width="0.8" />
<circle cx="101.98" cy="231.25" r="2.1" fill="#ff0000"/>
<line x1="106.82" y1="230" x2="121.33" y2="230" stroke="#ff0000" stroke-width="1.0" />
<line x1="114.07" y1="221.25" x2="114.07" y2="238.75" stroke="#ff0000" stroke-width="1.0" />
<line x1="106.82" y1="229" x2="106.82" y2="231" stroke="#ff0000" stroke-width="0.8" />
<line x1="121.33" y1="229" x2="121.33" y2="231" stroke="#ff0000" stroke-width="0.8" />
<line x1="113.07" y1="221.25" x2="115.07" y2="221.25" stroke="#ff0000" stroke-width="0.8" />
<line x1="113.07" y1="238.75" x2="115.07" y2="238.75" stroke="#ff0000" stroke-width="0.8" />
<circle cx="114.07" cy="230" r="2.1" fill="#ff0000"/>
<line x1="121.33" y1="230" x2="150.36" y2="230" stroke="#ff0000" stroke-width="1.0" />
<line x1="135.84" y1="221.25" x2="135.84" y2="238.75" stroke="#ff0000" stroke-width="1.0" />
<line x1="121.33" y1="229" x2="121.33" y2="231" stroke="#ff0000" stroke-width="0.8" />
<line x1="150.36" y1="229" x2="150.36" y2="231" stroke="#ff0000" stroke-width="0.8" />
<line x1="134.84" y1="221.25" x2="136.84" y2="221.25" stroke="#ff0000" stroke-width="0.8" />
<line x1="134.84" y1="238.75" x2="136.84" y2="238.75" stroke="#ff0000" stroke-width="0.8" />
<circle cx="135.84" cy="230" r="2.1" fill="#ff0000"/>
<line x1="150.36" y1="237" x2="208.41" y2="237" stroke="#ff0000" stroke-width="1.0" />
<line x1="179.39" y1="226.5" x2="179.39" y2="247.5" stroke="#ff0000" stroke-width="1.0" />
<line x1="150.36" y1="236" x2="150.36" y2="238" stroke="#ff0000" stroke-width="0.8" />
<line x1="208.41" y1="236" x2="208.41" y2="238" stroke="#ff0000" stroke-width="0.8" />
<line x1="178.39" y1="226.5" x2="180.39" y2="226.5" stroke="#ff0000" stroke-width="0.8" />
<line x1="178.39" y1="247.5" x2="180.39" y2="247.5" stroke="#ff0000" stroke-width="0.8" />
<circle cx="179.39" cy="237" r="2.1" fill="#ff0000"/>
<line x1="208.41" y1="239.5" x2="324.53" y2="239.5" stroke="#ff0000" stroke-width="1.0" />
<line x1="266.47" y1="230" x2="266.47" y2="249" stroke="#ff0000" stroke-width="1.0" />
<line x1="208.41" y1="238.5" x2="208.41" y2="240.5" stroke="#ff0000" stroke-width="0.8" />
<line x1="324.53" y1="238.5" x2="324.53" y2="240.5" stroke="#ff0000" stroke-width="0.8" />
<line x1="265.47" y1="230" x2="267.47" y2="230" stroke="#ff0000" stroke-width="0.8" />
<line x1="265.47" y1="249" x2="267.47" y2="249" stroke="#ff0000" stroke-width="0.8" />
<circle cx="266.47" cy="239.5" r="2.1" fill="#ff0000"/>
<text x="73.5" y="28.8" font-family='"Liberation Sans", sans-serif' font-size="13.4" text-anchor="start" font-weight="bold" font-style="italic" fill="#000" letter-spacing="0.12">ATLAS</text>
<path d="M76.3 40.2 L77.3 39.7 L78.5 47.2 L80.4 36.4 L87.5 36.4" fill="none" stroke="#000" stroke-width="0.9"/>
<text x="81" y="46.8" font-family='"Liberation Sans", sans-serif' font-size="13.2" fill="#000">s=13 TeV,<tspan dx="1.3"> 36.1 fb</tspan><tspan font-size="8.1" dy="-6.0" dx="0.5">-1</tspan></text>
<text x="75" y="64" font-family='"Liberation Sans", sans-serif' font-size="13" fill="#000" xml:space="preserve"><tspan fill="#6a6a6a" font-size="9.8" dy="1.2">|</tspan><tspan font-family='"Liberation Serif", serif' font-size="13.5" dx="2.2" dy="-1.2">η</tspan><tspan fill="#6a6a6a" font-size="9.8" dx="2.2" dy="1.2">|</tspan><tspan dy="-1.2" dx="0.6">&lt; 0.6</tspan></text>
<line x1="77.75" y1="83.7" x2="109.9" y2="83.7" stroke="#0000ff" stroke-width="1.0" />
<rect x="91.83" y="81.7" width="4" height="4" fill="#0000ff"/>
<line x1="77.75" y1="101.2" x2="109.9" y2="101.2" stroke="#ff0000" stroke-width="1.0" />
<circle cx="93.83" cy="101.2" r="2.1" fill="#ff0000"/>
<rect x="77.75" y="112.4" width="32.15" height="12.5" fill="url(#hat)"/>
<text transform="translate(116.8,87.5) scale(1,1.03)" font-family='"Liberation Sans", sans-serif' font-size="13" text-anchor="start" font-weight="normal" font-style="normal" fill="#000" >converted</text>
<text transform="translate(116.8,104.7) scale(1,1.03)" font-family='"Liberation Sans", sans-serif' font-size="13" text-anchor="start" font-weight="normal" font-style="normal" fill="#000" >unconverted</text>
<text transform="translate(116.8,122.2) scale(1,1.03)" font-family='"Liberation Sans", sans-serif' font-size="13" text-anchor="start" font-weight="normal" font-style="normal" fill="#000" >Syst. Unc.</text>
<text x="182.6" y="87.5" font-family='"Liberation Serif", serif' font-size="13.65" text-anchor="start" font-weight="normal" font-style="normal" fill="#000" >γ</text>
<text x="196.6" y="104.7" font-family='"Liberation Serif", serif' font-size="13.65" text-anchor="start" font-weight="normal" font-style="normal" fill="#000" >γ</text>
</g>
<g>
<rect x="409.39" y="212.5" width="9.68" height="5.6" fill="url(#hat)"/>
<rect x="419.06" y="208.1" width="9.68" height="8.15" fill="url(#hat)"/>
<rect x="428.74" y="205.25" width="9.68" height="11.65" fill="url(#hat)"/>
<rect x="438.41" y="199.4" width="9.68" height="12.5" fill="url(#hat)"/>
<rect x="448.09" y="195" width="9.68" height="12.75" fill="url(#hat)"/>
<rect x="457.77" y="182.75" width="14.51" height="10" fill="url(#hat)"/>
<rect x="472.28" y="186.25" width="29.03" height="14" fill="url(#hat)"/>
<rect x="501.31" y="177.9" width="58.06" height="9.85" fill="url(#hat)"/>
<rect x="559.36" y="137" width="116.11" height="32.75" fill="url(#hat)"/>
<rect x="409.39" y="231.6" width="9.68" height="5" fill="url(#hat)"/>
<rect x="419.06" y="238.3" width="9.68" height="4.6" fill="url(#hat)"/>
<rect x="428.74" y="246" width="9.68" height="6.8" fill="url(#hat)"/>
<rect x="438.41" y="248.3" width="9.68" height="5.2" fill="url(#hat)"/>
<rect x="448.09" y="247.5" width="9.68" height="5.8" fill="url(#hat)"/>
<rect x="457.77" y="243.9" width="14.51" height="10.4" fill="url(#hat)"/>
<rect x="472.28" y="246" width="29.03" height="8.5" fill="url(#hat)"/>
<rect x="501.31" y="247" width="58.06" height="9.1" fill="url(#hat)"/>
<rect x="559.36" y="260.1" width="116.11" height="11.7" fill="url(#hat)"/>
<rect x="407.45" y="5.25" width="269.05" height="275.25" fill="none" stroke="#2e2e2e" stroke-width="1.0"/>
<line x1="414.22" y1="280.5" x2="414.22" y2="276.2" stroke="#2e2e2e" stroke-width="0.78" />
<line x1="414.22" y1="5.25" x2="414.22" y2="9.55" stroke="#2e2e2e" stroke-width="0.78" />
<line x1="423.9" y1="280.5" x2="423.9" y2="276.2" stroke="#2e2e2e" stroke-width="0.78" />
<line x1="423.9" y1="5.25" x2="423.9" y2="9.55" stroke="#2e2e2e" stroke-width="0.78" />
<line x1="433.58" y1="280.5" x2="433.58" y2="272.5" stroke="#2e2e2e" stroke-width="0.78" />
<line x1="433.58" y1="5.25" x2="433.58" y2="13.25" stroke="#2e2e2e" stroke-width="0.78" />
<line x1="443.25" y1="280.5" x2="443.25" y2="276.2" stroke="#2e2e2e" stroke-width="0.78" />
<line x1="443.25" y1="5.25" x2="443.25" y2="9.55" stroke="#2e2e2e" stroke-width="0.78" />
<line x1="452.93" y1="280.5" x2="452.93" y2="276.2" stroke="#2e2e2e" stroke-width="0.78" />
<line x1="452.93" y1="5.25" x2="452.93" y2="9.55" stroke="#2e2e2e" stroke-width="0.78" />
<line x1="462.6" y1="280.5" x2="462.6" y2="276.2" stroke="#2e2e2e" stroke-width="0.78" />
<line x1="462.6" y1="5.25" x2="462.6" y2="9.55" stroke="#2e2e2e" stroke-width="0.78" />
<line x1="472.28" y1="280.5" x2="472.28" y2="276.2" stroke="#2e2e2e" stroke-width="0.78" />
<line x1="472.28" y1="5.25" x2="472.28" y2="9.55" stroke="#2e2e2e" stroke-width="0.78" />
<line x1="481.96" y1="280.5" x2="481.96" y2="272.5" stroke="#2e2e2e" stroke-width="0.78" />
<line x1="481.96" y1="5.25" x2="481.96" y2="13.25" stroke="#2e2e2e" stroke-width="0.78" />
<line x1="491.63" y1="280.5" x2="491.63" y2="276.2" stroke="#2e2e2e" stroke-width="0.78" />
<line x1="491.63" y1="5.25" x2="491.63" y2="9.55" stroke="#2e2e2e" stroke-width="0.78" />
<line x1="501.31" y1="280.5" x2="501.31" y2="276.2" stroke="#2e2e2e" stroke-width="0.78" />
<line x1="501.31" y1="5.25" x2="501.31" y2="9.55" stroke="#2e2e2e" stroke-width="0.78" />
<line x1="510.98" y1="280.5" x2="510.98" y2="276.2" stroke="#2e2e2e" stroke-width="0.78" />
<line x1="510.98" y1="5.25" x2="510.98" y2="9.55" stroke="#2e2e2e" stroke-width="0.78" />
<line x1="520.66" y1="280.5" x2="520.66" y2="276.2" stroke="#2e2e2e" stroke-width="0.78" />
<line x1="520.66" y1="5.25" x2="520.66" y2="9.55" stroke="#2e2e2e" stroke-width="0.78" />
<line x1="530.34" y1="280.5" x2="530.34" y2="272.5" stroke="#2e2e2e" stroke-width="0.78" />
<line x1="530.34" y1="5.25" x2="530.34" y2="13.25" stroke="#2e2e2e" stroke-width="0.78" />
<line x1="540.01" y1="280.5" x2="540.01" y2="276.2" stroke="#2e2e2e" stroke-width="0.78" />
<line x1="540.01" y1="5.25" x2="540.01" y2="9.55" stroke="#2e2e2e" stroke-width="0.78" />
<line x1="549.69" y1="280.5" x2="549.69" y2="276.2" stroke="#2e2e2e" stroke-width="0.78" />
<line x1="549.69" y1="5.25" x2="549.69" y2="9.55" stroke="#2e2e2e" stroke-width="0.78" />
<line x1="559.36" y1="280.5" x2="559.36" y2="276.2" stroke="#2e2e2e" stroke-width="0.78" />
<line x1="559.36" y1="5.25" x2="559.36" y2="9.55" stroke="#2e2e2e" stroke-width="0.78" />
<line x1="569.04" y1="280.5" x2="569.04" y2="276.2" stroke="#2e2e2e" stroke-width="0.78" />
<line x1="569.04" y1="5.25" x2="569.04" y2="9.55" stroke="#2e2e2e" stroke-width="0.78" />
<line x1="578.72" y1="280.5" x2="578.72" y2="272.5" stroke="#2e2e2e" stroke-width="0.78" />
<line x1="578.72" y1="5.25" x2="578.72" y2="13.25" stroke="#2e2e2e" stroke-width="0.78" />
<line x1="588.39" y1="280.5" x2="588.39" y2="276.2" stroke="#2e2e2e" stroke-width="0.78" />
<line x1="588.39" y1="5.25" x2="588.39" y2="9.55" stroke="#2e2e2e" stroke-width="0.78" />
<line x1="598.07" y1="280.5" x2="598.07" y2="276.2" stroke="#2e2e2e" stroke-width="0.78" />
<line x1="598.07" y1="5.25" x2="598.07" y2="9.55" stroke="#2e2e2e" stroke-width="0.78" />
<line x1="607.74" y1="280.5" x2="607.74" y2="276.2" stroke="#2e2e2e" stroke-width="0.78" />
<line x1="607.74" y1="5.25" x2="607.74" y2="9.55" stroke="#2e2e2e" stroke-width="0.78" />
<line x1="617.42" y1="280.5" x2="617.42" y2="276.2" stroke="#2e2e2e" stroke-width="0.78" />
<line x1="617.42" y1="5.25" x2="617.42" y2="9.55" stroke="#2e2e2e" stroke-width="0.78" />
<line x1="627.1" y1="280.5" x2="627.1" y2="272.5" stroke="#2e2e2e" stroke-width="0.78" />
<line x1="627.1" y1="5.25" x2="627.1" y2="13.25" stroke="#2e2e2e" stroke-width="0.78" />
<line x1="636.77" y1="280.5" x2="636.77" y2="276.2" stroke="#2e2e2e" stroke-width="0.78" />
<line x1="636.77" y1="5.25" x2="636.77" y2="9.55" stroke="#2e2e2e" stroke-width="0.78" />
<line x1="646.45" y1="280.5" x2="646.45" y2="276.2" stroke="#2e2e2e" stroke-width="0.78" />
<line x1="646.45" y1="5.25" x2="646.45" y2="9.55" stroke="#2e2e2e" stroke-width="0.78" />
<line x1="656.12" y1="280.5" x2="656.12" y2="276.2" stroke="#2e2e2e" stroke-width="0.78" />
<line x1="656.12" y1="5.25" x2="656.12" y2="9.55" stroke="#2e2e2e" stroke-width="0.78" />
<line x1="665.8" y1="280.5" x2="665.8" y2="276.2" stroke="#2e2e2e" stroke-width="0.78" />
<line x1="665.8" y1="5.25" x2="665.8" y2="9.55" stroke="#2e2e2e" stroke-width="0.78" />
<line x1="675.48" y1="280.5" x2="675.48" y2="272.5" stroke="#2e2e2e" stroke-width="0.78" />
<line x1="675.48" y1="5.25" x2="675.48" y2="13.25" stroke="#2e2e2e" stroke-width="0.78" />
<line x1="407.45" y1="280.5" x2="415.65" y2="280.5" stroke="#2e2e2e" stroke-width="0.78" />
<line x1="676.5" y1="280.5" x2="668.3" y2="280.5" stroke="#2e2e2e" stroke-width="0.78" />
<line x1="407.45" y1="275" x2="411.75" y2="275" stroke="#2e2e2e" stroke-width="0.78" />
<line x1="676.5" y1="275" x2="672.2" y2="275" stroke="#2e2e2e" stroke-width="0.78" />
<line x1="407.45" y1="269.49" x2="411.75" y2="269.49" stroke="#2e2e2e" stroke-width="0.78" />
<line x1="676.5" y1="269.49" x2="672.2" y2="269.49" stroke="#2e2e2e" stroke-width="0.78" />
<line x1="407.45" y1="263.99" x2="411.75" y2="263.99" stroke="#2e2e2e" stroke-width="0.78" />
<line x1="676.5" y1="263.99" x2="672.2" y2="263.99" stroke="#2e2e2e" stroke-width="0.78" />
<line x1="407.45" y1="258.48" x2="411.75" y2="258.48" stroke="#2e2e2e" stroke-width="0.78" />
<line x1="676.5" y1="258.48" x2="672.2" y2="258.48" stroke="#2e2e2e" stroke-width="0.78" />
<text transform="translate(403.8,284.75) scale(1,1.02)" font-family='"Liberation Sans", sans-serif' font-size="11.3" text-anchor="end" font-weight="normal" font-style="normal" fill="#000" >0</text>
<line x1="407.45" y1="252.97" x2="415.65" y2="252.97" stroke="#2e2e2e" stroke-width="0.78" />
<line x1="676.5" y1="252.97" x2="668.3" y2="252.97" stroke="#2e2e2e" stroke-width="0.78" />
<line x1="407.45" y1="247.47" x2="411.75" y2="247.47" stroke="#2e2e2e" stroke-width="0.78" />
<line x1="676.5" y1="247.47" x2="672.2" y2="247.47" stroke="#2e2e2e" stroke-width="0.78" />
<line x1="407.45" y1="241.97" x2="411.75" y2="241.97" stroke="#2e2e2e" stroke-width="0.78" />
<line x1="676.5" y1="241.97" x2="672.2" y2="241.97" stroke="#2e2e2e" stroke-width="0.78" />
<line x1="407.45" y1="236.46" x2="411.75" y2="236.46" stroke="#2e2e2e" stroke-width="0.78" />
<line x1="676.5" y1="236.46" x2="672.2" y2="236.46" stroke="#2e2e2e" stroke-width="0.78" />
<line x1="407.45" y1="230.95" x2="411.75" y2="230.95" stroke="#2e2e2e" stroke-width="0.78" />
<line x1="676.5" y1="230.95" x2="672.2" y2="230.95" stroke="#2e2e2e" stroke-width="0.78" />
<text transform="translate(403.8,257.23) scale(1,1.02)" font-family='"Liberation Sans", sans-serif' font-size="11.3" text-anchor="end" font-weight="normal" font-style="normal" fill="#000" >0.01</text>
<line x1="407.45" y1="225.45" x2="415.65" y2="225.45" stroke="#2e2e2e" stroke-width="0.78" />
<line x1="676.5" y1="225.45" x2="668.3" y2="225.45" stroke="#2e2e2e" stroke-width="0.78" />
<line x1="407.45" y1="219.94" x2="411.75" y2="219.94" stroke="#2e2e2e" stroke-width="0.78" />
<line x1="676.5" y1="219.94" x2="672.2" y2="219.94" stroke="#2e2e2e" stroke-width="0.78" />
<line x1="407.45" y1="214.44" x2="411.75" y2="214.44" stroke="#2e2e2e" stroke-width="0.78" />
<line x1="676.5" y1="214.44" x2="672.2" y2="214.44" stroke="#2e2e2e" stroke-width="0.78" />
<line x1="407.45" y1="208.94" x2="411.75" y2="208.94" stroke="#2e2e2e" stroke-width="0.78" />
<line x1="676.5" y1="208.94" x2="672.2" y2="208.94" stroke="#2e2e2e" stroke-width="0.78" />
<line x1="407.45" y1="203.43" x2="411.75" y2="203.43" stroke="#2e2e2e" stroke-width="0.78" />
<line x1="676.5" y1="203.43" x2="672.2" y2="203.43" stroke="#2e2e2e" stroke-width="0.78" />
<text transform="translate(403.8,229.7) scale(1,1.02)" font-family='"Liberation Sans", sans-serif' font-size="11.3" text-anchor="end" font-weight="normal" font-style="normal" fill="#000" >0.02</text>
<line x1="407.45" y1="197.93" x2="415.65" y2="197.93" stroke="#2e2e2e" stroke-width="0.78" />
<line x1="676.5" y1="197.93" x2="668.3" y2="197.93" stroke="#2e2e2e" stroke-width="0.78" />
<line x1="407.45" y1="192.42" x2="411.75" y2="192.42" stroke="#2e2e2e" stroke-width="0.78" />
<line x1="676.5" y1="192.42" x2="672.2" y2="192.42" stroke="#2e2e2e" stroke-width="0.78" />
<line x1="407.45" y1="186.92" x2="411.75" y2="186.92" stroke="#2e2e2e" stroke-width="0.78" />
<line x1="676.5" y1="186.92" x2="672.2" y2="186.92" stroke="#2e2e2e" stroke-width="0.78" />
<line x1="407.45" y1="181.41" x2="411.75" y2="181.41" stroke="#2e2e2e" stroke-width="0.78" />
<line x1="676.5" y1="181.41" x2="672.2" y2="181.41" stroke="#2e2e2e" stroke-width="0.78" />
<line x1="407.45" y1="175.91" x2="411.75" y2="175.91" stroke="#2e2e2e" stroke-width="0.78" />
<line x1="676.5" y1="175.91" x2="672.2" y2="175.91" stroke="#2e2e2e" stroke-width="0.78" />
<text transform="translate(403.8,202.18) scale(1,1.02)" font-family='"Liberation Sans", sans-serif' font-size="11.3" text-anchor="end" font-weight="normal" font-style="normal" fill="#000" >0.03</text>
<line x1="407.45" y1="170.4" x2="415.65" y2="170.4" stroke="#2e2e2e" stroke-width="0.78" />
<line x1="676.5" y1="170.4" x2="668.3" y2="170.4" stroke="#2e2e2e" stroke-width="0.78" />
<line x1="407.45" y1="164.9" x2="411.75" y2="164.9" stroke="#2e2e2e" stroke-width="0.78" />
<line x1="676.5" y1="164.9" x2="672.2" y2="164.9" stroke="#2e2e2e" stroke-width="0.78" />
<line x1="407.45" y1="159.39" x2="411.75" y2="159.39" stroke="#2e2e2e" stroke-width="0.78" />
<line x1="676.5" y1="159.39" x2="672.2" y2="159.39" stroke="#2e2e2e" stroke-width="0.78" />
<line x1="407.45" y1="153.89" x2="411.75" y2="153.89" stroke="#2e2e2e" stroke-width="0.78" />
<line x1="676.5" y1="153.89" x2="672.2" y2="153.89" stroke="#2e2e2e" stroke-width="0.78" />
<line x1="407.45" y1="148.38" x2="411.75" y2="148.38" stroke="#2e2e2e" stroke-width="0.78" />
<line x1="676.5" y1="148.38" x2="672.2" y2="148.38" stroke="#2e2e2e" stroke-width="0.78" />
<text transform="translate(403.8,174.65) scale(1,1.02)" font-family='"Liberation Sans", sans-serif' font-size="11.3" text-anchor="end" font-weight="normal" font-style="normal" fill="#000" >0.04</text>
<line x1="407.45" y1="142.88" x2="415.65" y2="142.88" stroke="#2e2e2e" stroke-width="0.78" />
<line x1="676.5" y1="142.88" x2="668.3" y2="142.88" stroke="#2e2e2e" stroke-width="0.78" />
<line x1="407.45" y1="137.37" x2="411.75" y2="137.37" stroke="#2e2e2e" stroke-width="0.78" />
<line x1="676.5" y1="137.37" x2="672.2" y2="137.37" stroke="#2e2e2e" stroke-width="0.78" />
<line x1="407.45" y1="131.87" x2="411.75" y2="131.87" stroke="#2e2e2e" stroke-width="0.78" />
<line x1="676.5" y1="131.87" x2="672.2" y2="131.87" stroke="#2e2e2e" stroke-width="0.78" />
<line x1="407.45" y1="126.36" x2="411.75" y2="126.36" stroke="#2e2e2e" stroke-width="0.78" />
<line x1="676.5" y1="126.36" x2="672.2" y2="126.36" stroke="#2e2e2e" stroke-width="0.78" />
<line x1="407.45" y1="120.86" x2="411.75" y2="120.86" stroke="#2e2e2e" stroke-width="0.78" />
<line x1="676.5" y1="120.86" x2="672.2" y2="120.86" stroke="#2e2e2e" stroke-width="0.78" />
<text transform="translate(403.8,147.12) scale(1,1.02)" font-family='"Liberation Sans", sans-serif' font-size="11.3" text-anchor="end" font-weight="normal" font-style="normal" fill="#000" >0.05</text>
<line x1="407.45" y1="115.35" x2="415.65" y2="115.35" stroke="#2e2e2e" stroke-width="0.78" />
<line x1="676.5" y1="115.35" x2="668.3" y2="115.35" stroke="#2e2e2e" stroke-width="0.78" />
<line x1="407.45" y1="109.85" x2="411.75" y2="109.85" stroke="#2e2e2e" stroke-width="0.78" />
<line x1="676.5" y1="109.85" x2="672.2" y2="109.85" stroke="#2e2e2e" stroke-width="0.78" />
<line x1="407.45" y1="104.34" x2="411.75" y2="104.34" stroke="#2e2e2e" stroke-width="0.78" />
<line x1="676.5" y1="104.34" x2="672.2" y2="104.34" stroke="#2e2e2e" stroke-width="0.78" />
<line x1="407.45" y1="98.84" x2="411.75" y2="98.84" stroke="#2e2e2e" stroke-width="0.78" />
<line x1="676.5" y1="98.84" x2="672.2" y2="98.84" stroke="#2e2e2e" stroke-width="0.78" />
<line x1="407.45" y1="93.33" x2="411.75" y2="93.33" stroke="#2e2e2e" stroke-width="0.78" />
<line x1="676.5" y1="93.33" x2="672.2" y2="93.33" stroke="#2e2e2e" stroke-width="0.78" />
<text transform="translate(403.8,119.6) scale(1,1.02)" font-family='"Liberation Sans", sans-serif' font-size="11.3" text-anchor="end" font-weight="normal" font-style="normal" fill="#000" >0.06</text>
<line x1="407.45" y1="87.83" x2="415.65" y2="87.83" stroke="#2e2e2e" stroke-width="0.78" />
<line x1="676.5" y1="87.83" x2="668.3" y2="87.83" stroke="#2e2e2e" stroke-width="0.78" />
<line x1="407.45" y1="82.32" x2="411.75" y2="82.32" stroke="#2e2e2e" stroke-width="0.78" />
<line x1="676.5" y1="82.32" x2="672.2" y2="82.32" stroke="#2e2e2e" stroke-width="0.78" />
<line x1="407.45" y1="76.82" x2="411.75" y2="76.82" stroke="#2e2e2e" stroke-width="0.78" />
<line x1="676.5" y1="76.82" x2="672.2" y2="76.82" stroke="#2e2e2e" stroke-width="0.78" />
<line x1="407.45" y1="71.31" x2="411.75" y2="71.31" stroke="#2e2e2e" stroke-width="0.78" />
<line x1="676.5" y1="71.31" x2="672.2" y2="71.31" stroke="#2e2e2e" stroke-width="0.78" />
<line x1="407.45" y1="65.81" x2="411.75" y2="65.81" stroke="#2e2e2e" stroke-width="0.78" />
<line x1="676.5" y1="65.81" x2="672.2" y2="65.81" stroke="#2e2e2e" stroke-width="0.78" />
<text transform="translate(403.8,92.08) scale(1,1.02)" font-family='"Liberation Sans", sans-serif' font-size="11.3" text-anchor="end" font-weight="normal" font-style="normal" fill="#000" >0.07</text>
<line x1="407.45" y1="60.3" x2="415.65" y2="60.3" stroke="#2e2e2e" stroke-width="0.78" />
<line x1="676.5" y1="60.3" x2="668.3" y2="60.3" stroke="#2e2e2e" stroke-width="0.78" />
<line x1="407.45" y1="54.8" x2="411.75" y2="54.8" stroke="#2e2e2e" stroke-width="0.78" />
<line x1="676.5" y1="54.8" x2="672.2" y2="54.8" stroke="#2e2e2e" stroke-width="0.78" />
<line x1="407.45" y1="49.29" x2="411.75" y2="49.29" stroke="#2e2e2e" stroke-width="0.78" />
<line x1="676.5" y1="49.29" x2="672.2" y2="49.29" stroke="#2e2e2e" stroke-width="0.78" />
<line x1="407.45" y1="43.79" x2="411.75" y2="43.79" stroke="#2e2e2e" stroke-width="0.78" />
<line x1="676.5" y1="43.79" x2="672.2" y2="43.79" stroke="#2e2e2e" stroke-width="0.78" />
<line x1="407.45" y1="38.28" x2="411.75" y2="38.28" stroke="#2e2e2e" stroke-width="0.78" />
<line x1="676.5" y1="38.28" x2="672.2" y2="38.28" stroke="#2e2e2e" stroke-width="0.78" />
<text transform="translate(403.8,64.55) scale(1,1.02)" font-family='"Liberation Sans", sans-serif' font-size="11.3" text-anchor="end" font-weight="normal" font-style="normal" fill="#000" >0.08</text>
<line x1="407.45" y1="32.78" x2="415.65" y2="32.78" stroke="#2e2e2e" stroke-width="0.78" />
<line x1="676.5" y1="32.78" x2="668.3" y2="32.78" stroke="#2e2e2e" stroke-width="0.78" />
<line x1="407.45" y1="27.27" x2="411.75" y2="27.27" stroke="#2e2e2e" stroke-width="0.78" />
<line x1="676.5" y1="27.27" x2="672.2" y2="27.27" stroke="#2e2e2e" stroke-width="0.78" />
<line x1="407.45" y1="21.77" x2="411.75" y2="21.77" stroke="#2e2e2e" stroke-width="0.78" />
<line x1="676.5" y1="21.77" x2="672.2" y2="21.77" stroke="#2e2e2e" stroke-width="0.78" />
<line x1="407.45" y1="16.26" x2="411.75" y2="16.26" stroke="#2e2e2e" stroke-width="0.78" />
<line x1="676.5" y1="16.26" x2="672.2" y2="16.26" stroke="#2e2e2e" stroke-width="0.78" />
<line x1="407.45" y1="10.76" x2="411.75" y2="10.76" stroke="#2e2e2e" stroke-width="0.78" />
<line x1="676.5" y1="10.76" x2="672.2" y2="10.76" stroke="#2e2e2e" stroke-width="0.78" />
<text transform="translate(403.8,37.03) scale(1,1.02)" font-family='"Liberation Sans", sans-serif' font-size="11.3" text-anchor="end" font-weight="normal" font-style="normal" fill="#000" >0.09</text>
<line x1="407.45" y1="5.25" x2="415.65" y2="5.25" stroke="#2e2e2e" stroke-width="0.78" />
<line x1="676.5" y1="5.25" x2="668.3" y2="5.25" stroke="#2e2e2e" stroke-width="0.78" />
<text transform="translate(403.8,9.5) scale(1,1.02)" font-family='"Liberation Sans", sans-serif' font-size="11.3" text-anchor="end" font-weight="normal" font-style="normal" fill="#000" >0.1</text>
<text transform="translate(433.28,294.3) scale(1,1.02)" font-family='"Liberation Sans", sans-serif' font-size="11.3" text-anchor="middle" font-weight="normal" font-style="normal" fill="#000" >50</text>
<text transform="translate(481.66,294.3) scale(1,1.02)" font-family='"Liberation Sans", sans-serif' font-size="11.3" text-anchor="middle" font-weight="normal" font-style="normal" fill="#000" >100</text>
<text transform="translate(530.04,294.3) scale(1,1.02)" font-family='"Liberation Sans", sans-serif' font-size="11.3" text-anchor="middle" font-weight="normal" font-style="normal" fill="#000" >150</text>
<text transform="translate(578.42,294.3) scale(1,1.02)" font-family='"Liberation Sans", sans-serif' font-size="11.3" text-anchor="middle" font-weight="normal" font-style="normal" fill="#000" >200</text>
<text transform="translate(626.8,294.3) scale(1,1.02)" font-family='"Liberation Sans", sans-serif' font-size="11.3" text-anchor="middle" font-weight="normal" font-style="normal" fill="#000" >250</text>
<text transform="translate(675.18,294.3) scale(1,1.02)" font-family='"Liberation Sans", sans-serif' font-size="11.3" text-anchor="middle" font-weight="normal" font-style="normal" fill="#000" >300</text>
<text x="677.2" y="318.3" font-family='"Liberation Sans", sans-serif' font-size="13" text-anchor="end" fill="#000">p<tspan font-size="8.8" dy="6.8">T</tspan><tspan dy="-6.8"> [GeV]</tspan></text>
<g transform="translate(366.75,34.65) rotate(-90)">
<text transform="scale(1,1.08)" x="0" y="0" font-family='"Liberation Sans", sans-serif' font-size="13.5" fill="#000">F</text>
<text x="8.2" y="3.5" font-family='"Liberation Sans", sans-serif' font-size="9.2" fill="#000">e</text>
<path d="M14.0 0.6 L22.3 0.6 M19.9 -1.6 L22.3 0.6 L19.9 2.8" fill="none" stroke="#000" stroke-width="0.55"/>
<text x="22.6" y="3.5" font-family='"Liberation Serif", serif' font-size="10" fill="#000">γ</text>
</g>
<line x1="409.39" y1="215.25" x2="419.06" y2="215.25" stroke="#0000ff" stroke-width="1.0" />
<line x1="414.22" y1="212" x2="414.22" y2="218.5" stroke="#0000ff" stroke-width="1.0" />
<rect x="412.22" y="213.25" width="4" height="4" fill="#0000ff"/>
<line x1="419.06" y1="211.9" x2="428.74" y2="211.9" stroke="#0000ff" stroke-width="1.0" />
<line x1="423.9" y1="207.4" x2="423.9" y2="216.4" stroke="#0000ff" stroke-width="1.0" />
<rect x="421.9" y="209.9" width="4" height="4" fill="#0000ff"/>
<line x1="428.74" y1="211" x2="438.41" y2="211" stroke="#0000ff" stroke-width="1.0" />
<line x1="433.58" y1="205.2" x2="433.58" y2="216.8" stroke="#0000ff" stroke-width="1.0" />
<rect x="431.58" y="209" width="4" height="4" fill="#0000ff"/>
<line x1="438.41" y1="205.9" x2="448.09" y2="205.9" stroke="#0000ff" stroke-width="1.0" />
<line x1="443.25" y1="199.15" x2="443.25" y2="212.65" stroke="#0000ff" stroke-width="1.0" />
<rect x="441.25" y="203.9" width="4" height="4" fill="#0000ff"/>
<line x1="448.09" y1="201.6" x2="457.77" y2="201.6" stroke="#0000ff" stroke-width="1.0" />
<line x1="452.93" y1="194.6" x2="452.93" y2="208.6" stroke="#0000ff" stroke-width="1.0" />
<rect x="450.93" y="199.6" width="4" height="4" fill="#0000ff"/>
<line x1="457.77" y1="187.9" x2="472.28" y2="187.9" stroke="#0000ff" stroke-width="1.0" />
<line x1="465.02" y1="181.5" x2="465.02" y2="194.3" stroke="#0000ff" stroke-width="1.0" />
<rect x="463.02" y="185.9" width="4" height="4" fill="#0000ff"/>
<line x1="472.28" y1="193.4" x2="501.31" y2="193.4" stroke="#0000ff" stroke-width="1.0" />
<line x1="486.79" y1="185" x2="486.79" y2="201.8" stroke="#0000ff" stroke-width="1.0" />
<rect x="484.79" y="191.4" width="4" height="4" fill="#0000ff"/>
<line x1="501.31" y1="182.8" x2="559.36" y2="182.8" stroke="#0000ff" stroke-width="1.0" />
<line x1="530.34" y1="174.2" x2="530.34" y2="191.4" stroke="#0000ff" stroke-width="1.0" />
<rect x="528.34" y="180.8" width="4" height="4" fill="#0000ff"/>
<line x1="559.36" y1="153.4" x2="675.48" y2="153.4" stroke="#0000ff" stroke-width="1.0" />
<line x1="617.42" y1="131.7" x2="617.42" y2="175.1" stroke="#0000ff" stroke-width="1.0" />
<rect x="615.42" y="151.4" width="4" height="4" fill="#0000ff"/>
<line x1="409.39" y1="234.1" x2="419.06" y2="234.1" stroke="#ff0000" stroke-width="1.0" />
<line x1="414.22" y1="231.3" x2="414.22" y2="236.9" stroke="#ff0000" stroke-width="1.0" />
<circle cx="414.22" cy="234.1" r="2.1" fill="#ff0000"/>
<line x1="419.06" y1="240.6" x2="428.74" y2="240.6" stroke="#ff0000" stroke-width="1.0" />
<line x1="423.9" y1="237.7" x2="423.9" y2="243.5" stroke="#ff0000" stroke-width="1.0" />
<circle cx="423.9" cy="240.6" r="2.1" fill="#ff0000"/>
<line x1="428.74" y1="249.4" x2="438.41" y2="249.4" stroke="#ff0000" stroke-width="1.0" />
<line x1="433.58" y1="245.7" x2="433.58" y2="253.1" stroke="#ff0000" stroke-width="1.0" />
<circle cx="433.58" cy="249.4" r="2.1" fill="#ff0000"/>
<line x1="438.41" y1="250.9" x2="448.09" y2="250.9" stroke="#ff0000" stroke-width="1.0" />
<line x1="443.25" y1="247.4" x2="443.25" y2="254.4" stroke="#ff0000" stroke-width="1.0" />
<circle cx="443.25" cy="250.9" r="2.1" fill="#ff0000"/>
<line x1="448.09" y1="250.4" x2="457.77" y2="250.4" stroke="#ff0000" stroke-width="1.0" />
<line x1="452.93" y1="246.1" x2="452.93" y2="254.7" stroke="#ff0000" stroke-width="1.0" />
<circle cx="452.93" cy="250.4" r="2.1" fill="#ff0000"/>
<line x1="457.77" y1="249.06" x2="472.28" y2="249.06" stroke="#ff0000" stroke-width="1.0" />
<line x1="465.02" y1="243.16" x2="465.02" y2="254.96" stroke="#ff0000" stroke-width="1.0" />
<circle cx="465.02" cy="249.06" r="2.1" fill="#ff0000"/>
<line x1="472.28" y1="250.3" x2="501.31" y2="250.3" stroke="#ff0000" stroke-width="1.0" />
<line x1="486.79" y1="244.9" x2="486.79" y2="255.7" stroke="#ff0000" stroke-width="1.0" />
<circle cx="486.79" cy="250.3" r="2.1" fill="#ff0000"/>
<line x1="501.31" y1="251.3" x2="559.36" y2="251.3" stroke="#ff0000" stroke-width="1.0" />
<line x1="530.34" y1="245.4" x2="530.34" y2="257.2" stroke="#ff0000" stroke-width="1.0" />
<circle cx="530.34" cy="251.3" r="2.1" fill="#ff0000"/>
<line x1="559.36" y1="266.1" x2="675.48" y2="266.1" stroke="#ff0000" stroke-width="1.0" />
<line x1="617.42" y1="258.35" x2="617.42" y2="273.85" stroke="#ff0000" stroke-width="1.0" />
<circle cx="617.42" cy="266.1" r="2.1" fill="#ff0000"/>
<text x="424.8" y="28.2" font-family='"Liberation Sans", sans-serif' font-size="13.4" text-anchor="start" font-weight="bold" font-style="italic" fill="#000" letter-spacing="0.12">ATLAS</text>
<path d="M427.6 39.6 L428.6 39.1 L429.8 46.6 L431.7 35.8 L438.8 35.8" fill="none" stroke="#000" stroke-width="0.9"/>
<text x="432.3" y="46.2" font-family='"Liberation Sans", sans-serif' font-size="13.2" fill="#000">s=13 TeV,<tspan dx="1.3"> 36.1 fb</tspan><tspan font-size="8.1" dy="-6.0" dx="0.5">-1</tspan></text>
<text x="425.9" y="64.2" font-family='"Liberation Sans", sans-serif' font-size="13" fill="#000" xml:space="preserve">1.15 ≤<tspan fill="#6a6a6a" font-size="9.8" dy="1.2">|</tspan><tspan font-family='"Liberation Serif", serif' font-size="13.5" dx="2.2" dy="-1.2">η</tspan><tspan fill="#6a6a6a" font-size="9.8" dx="2.2" dy="1.2">|</tspan><tspan dy="-1.2" dx="0.6">&lt; 1.37</tspan></text>
<line x1="428.7" y1="80.6" x2="460.9" y2="80.6" stroke="#0000ff" stroke-width="1.0" />
<rect x="442.8" y="78.6" width="4" height="4" fill="#0000ff"/>
<line x1="428.7" y1="92.1" x2="460.9" y2="92.1" stroke="#ff0000" stroke-width="1.0" />
<circle cx="444.8" cy="92.1" r="2.1" fill="#ff0000"/>
<rect x="428.7" y="99.3" width="32.2" height="8.6" fill="url(#hat)"/>
<text transform="translate(467.9,82.8) scale(1,1.03)" font-family='"Liberation Sans", sans-serif' font-size="13" text-anchor="start" font-weight="normal" font-style="normal" fill="#000" >converted</text>
<text transform="translate(467.9,94.7) scale(1,1.03)" font-family='"Liberation Sans", sans-serif' font-size="13" text-anchor="start" font-weight="normal" font-style="normal" fill="#000" >unconverted</text>
<text transform="translate(467.9,106.7) scale(1,1.03)" font-family='"Liberation Sans", sans-serif' font-size="13" text-anchor="start" font-weight="normal" font-style="normal" fill="#000" >Syst. Unc.</text>
<text x="533.3" y="82.8" font-family='"Liberation Serif", serif' font-size="13.65" text-anchor="start" font-weight="normal" font-style="normal" fill="#000" >γ</text>
<text x="547.8" y="94.7" font-family='"Liberation Serif", serif' font-size="13.65" text-anchor="start" font-weight="normal" font-style="normal" fill="#000" >γ</text>
</g>
<g>
<rect x="58.44" y="537.25" width="9.68" height="10.25" fill="url(#hat)"/>
<rect x="68.11" y="532.5" width="9.68" height="6.25" fill="url(#hat)"/>
<rect x="77.79" y="522.5" width="9.68" height="14.4" fill="url(#hat)"/>
<rect x="87.46" y="517.5" width="9.68" height="13.75" fill="url(#hat)"/>
<rect x="97.14" y="513.1" width="9.68" height="13.15" fill="url(#hat)"/>
<rect x="106.82" y="502.5" width="14.51" height="14.75" fill="url(#hat)"/>
<rect x="121.33" y="499.5" width="29.03" height="9.7" fill="url(#hat)"/>
<rect x="150.36" y="483.9" width="58.06" height="16.2" fill="url(#hat)"/>
<rect x="208.41" y="465.9" width="116.11" height="20.75" fill="url(#hat)"/>
<rect x="58.44" y="590.6" width="9.68" height="4.8" fill="url(#hat)"/>
<rect x="68.11" y="594.4" width="9.68" height="3.1" fill="url(#hat)"/>
<rect x="77.79" y="598.5" width="9.68" height="4.6" fill="url(#hat)"/>
<rect x="87.46" y="598.1" width="9.68" height="4.4" fill="url(#hat)"/>
<rect x="97.14" y="596.9" width="9.68" height="5.35" fill="url(#hat)"/>
<rect x="106.82" y="596.9" width="14.51" height="3.35" fill="url(#hat)"/>
<rect x="121.33" y="602.5" width="29.03" height="3.1" fill="url(#hat)"/>
<rect x="150.36" y="598.3" width="58.06" height="6.7" fill="url(#hat)"/>
<rect x="208.41" y="585.1" width="116.11" height="12.3" fill="url(#hat)"/>
<rect x="56.5" y="355" width="268.9" height="274.4" fill="none" stroke="#2e2e2e" stroke-width="1.0"/>
<line x1="63.27" y1="629.4" x2="63.27" y2="625.1" stroke="#2e2e2e" stroke-width="0.78" />
<line x1="63.27" y1="355" x2="63.27" y2="359.3" stroke="#2e2e2e" stroke-width="0.78" />
<line x1="72.95" y1="629.4" x2="72.95" y2="625.1" stroke="#2e2e2e" stroke-width="0.78" />
<line x1="72.95" y1="355" x2="72.95" y2="359.3" stroke="#2e2e2e" stroke-width="0.78" />
<line x1="82.63" y1="629.4" x2="82.63" y2="621.4" stroke="#2e2e2e" stroke-width="0.78" />
<line x1="82.63" y1="355" x2="82.63" y2="363" stroke="#2e2e2e" stroke-width="0.78" />
<line x1="92.3" y1="629.4" x2="92.3" y2="625.1" stroke="#2e2e2e" stroke-width="0.78" />
<line x1="92.3" y1="355" x2="92.3" y2="359.3" stroke="#2e2e2e" stroke-width="0.78" />
<line x1="101.98" y1="629.4" x2="101.98" y2="625.1" stroke="#2e2e2e" stroke-width="0.78" />
<line x1="101.98" y1="355" x2="101.98" y2="359.3" stroke="#2e2e2e" stroke-width="0.78" />
<line x1="111.65" y1="629.4" x2="111.65" y2="625.1" stroke="#2e2e2e" stroke-width="0.78" />
<line x1="111.65" y1="355" x2="111.65" y2="359.3" stroke="#2e2e2e" stroke-width="0.78" />
<line x1="121.33" y1="629.4" x2="121.33" y2="625.1" stroke="#2e2e2e" stroke-width="0.78" />
<line x1="121.33" y1="355" x2="121.33" y2="359.3" stroke="#2e2e2e" stroke-width="0.78" />
<line x1="131.01" y1="629.4" x2="131.01" y2="621.4" stroke="#2e2e2e" stroke-width="0.78" />
<line x1="131.01" y1="355" x2="131.01" y2="363" stroke="#2e2e2e" stroke-width="0.78" />
<line x1="140.68" y1="629.4" x2="140.68" y2="625.1" stroke="#2e2e2e" stroke-width="0.78" />
<line x1="140.68" y1="355" x2="140.68" y2="359.3" stroke="#2e2e2e" stroke-width="0.78" />
<line x1="150.36" y1="629.4" x2="150.36" y2="625.1" stroke="#2e2e2e" stroke-width="0.78" />
<line x1="150.36" y1="355" x2="150.36" y2="359.3" stroke="#2e2e2e" stroke-width="0.78" />
<line x1="160.03" y1="629.4" x2="160.03" y2="625.1" stroke="#2e2e2e" stroke-width="0.78" />
<line x1="160.03" y1="355" x2="160.03" y2="359.3" stroke="#2e2e2e" stroke-width="0.78" />
<line x1="169.71" y1="629.4" x2="169.71" y2="625.1" stroke="#2e2e2e" stroke-width="0.78" />
<line x1="169.71" y1="355" x2="169.71" y2="359.3" stroke="#2e2e2e" stroke-width="0.78" />
<line x1="179.39" y1="629.4" x2="179.39" y2="621.4" stroke="#2e2e2e" stroke-width="0.78" />
<line x1="179.39" y1="355" x2="179.39" y2="363" stroke="#2e2e2e" stroke-width="0.78" />
<line x1="189.06" y1="629.4" x2="189.06" y2="625.1" stroke="#2e2e2e" stroke-width="0.78" />
<line x1="189.06" y1="355" x2="189.06" y2="359.3" stroke="#2e2e2e" stroke-width="0.78" />
<line x1="198.74" y1="629.4" x2="198.74" y2="625.1" stroke="#2e2e2e" stroke-width="0.78" />
<line x1="198.74" y1="355" x2="198.74" y2="359.3" stroke="#2e2e2e" stroke-width="0.78" />
<line x1="208.41" y1="629.4" x2="208.41" y2="625.1" stroke="#2e2e2e" stroke-width="0.78" />
<line x1="208.41" y1="355" x2="208.41" y2="359.3" stroke="#2e2e2e" stroke-width="0.78" />
<line x1="218.09" y1="629.4" x2="218.09" y2="625.1" stroke="#2e2e2e" stroke-width="0.78" />
<line x1="218.09" y1="355" x2="218.09" y2="359.3" stroke="#2e2e2e" stroke-width="0.78" />
<line x1="227.77" y1="629.4" x2="227.77" y2="621.4" stroke="#2e2e2e" stroke-width="0.78" />
<line x1="227.77" y1="355" x2="227.77" y2="363" stroke="#2e2e2e" stroke-width="0.78" />
<line x1="237.44" y1="629.4" x2="237.44" y2="625.1" stroke="#2e2e2e" stroke-width="0.78" />
<line x1="237.44" y1="355" x2="237.44" y2="359.3" stroke="#2e2e2e" stroke-width="0.78" />
<line x1="247.12" y1="629.4" x2="247.12" y2="625.1" stroke="#2e2e2e" stroke-width="0.78" />
<line x1="247.12" y1="355" x2="247.12" y2="359.3" stroke="#2e2e2e" stroke-width="0.78" />
<line x1="256.79" y1="629.4" x2="256.79" y2="625.1" stroke="#2e2e2e" stroke-width="0.78" />
<line x1="256.79" y1="355" x2="256.79" y2="359.3" stroke="#2e2e2e" stroke-width="0.78" />
<line x1="266.47" y1="629.4" x2="266.47" y2="625.1" stroke="#2e2e2e" stroke-width="0.78" />
<line x1="266.47" y1="355" x2="266.47" y2="359.3" stroke="#2e2e2e" stroke-width="0.78" />
<line x1="276.15" y1="629.4" x2="276.15" y2="621.4" stroke="#2e2e2e" stroke-width="0.78" />
<line x1="276.15" y1="355" x2="276.15" y2="363" stroke="#2e2e2e" stroke-width="0.78" />
<line x1="285.82" y1="629.4" x2="285.82" y2="625.1" stroke="#2e2e2e" stroke-width="0.78" />
<line x1="285.82" y1="355" x2="285.82" y2="359.3" stroke="#2e2e2e" stroke-width="0.78" />
<line x1="295.5" y1="629.4" x2="295.5" y2="625.1" stroke="#2e2e2e" stroke-width="0.78" />
<line x1="295.5" y1="355" x2="295.5" y2="359.3" stroke="#2e2e2e" stroke-width="0.78" />
<line x1="305.17" y1="629.4" x2="305.17" y2="625.1" stroke="#2e2e2e" stroke-width="0.78" />
<line x1="305.17" y1="355" x2="305.17" y2="359.3" stroke="#2e2e2e" stroke-width="0.78" />
<line x1="314.85" y1="629.4" x2="314.85" y2="625.1" stroke="#2e2e2e" stroke-width="0.78" />
<line x1="314.85" y1="355" x2="314.85" y2="359.3" stroke="#2e2e2e" stroke-width="0.78" />
<line x1="324.53" y1="629.4" x2="324.53" y2="621.4" stroke="#2e2e2e" stroke-width="0.78" />
<line x1="324.53" y1="355" x2="324.53" y2="363" stroke="#2e2e2e" stroke-width="0.78" />
<line x1="56.5" y1="629.4" x2="64.7" y2="629.4" stroke="#2e2e2e" stroke-width="0.78" />
<line x1="325.4" y1="629.4" x2="317.2" y2="629.4" stroke="#2e2e2e" stroke-width="0.78" />
<line x1="56.5" y1="618.42" x2="60.8" y2="618.42" stroke="#2e2e2e" stroke-width="0.78" />
<line x1="325.4" y1="618.42" x2="321.1" y2="618.42" stroke="#2e2e2e" stroke-width="0.78" />
<line x1="56.5" y1="607.45" x2="60.8" y2="607.45" stroke="#2e2e2e" stroke-width="0.78" />
<line x1="325.4" y1="607.45" x2="321.1" y2="607.45" stroke="#2e2e2e" stroke-width="0.78" />
<line x1="56.5" y1="596.47" x2="60.8" y2="596.47" stroke="#2e2e2e" stroke-width="0.78" />
<line x1="325.4" y1="596.47" x2="321.1" y2="596.47" stroke="#2e2e2e" stroke-width="0.78" />
<line x1="56.5" y1="585.5" x2="60.8" y2="585.5" stroke="#2e2e2e" stroke-width="0.78" />
<line x1="325.4" y1="585.5" x2="321.1" y2="585.5" stroke="#2e2e2e" stroke-width="0.78" />
<text transform="translate(52.5,633.65) scale(1,1.02)" font-family='"Liberation Sans", sans-serif' font-size="11.3" text-anchor="end" font-weight="normal" font-style="normal" fill="#000" >0</text>
<line x1="56.5" y1="574.52" x2="64.7" y2="574.52" stroke="#2e2e2e" stroke-width="0.78" />
<line x1="325.4" y1="574.52" x2="317.2" y2="574.52" stroke="#2e2e2e" stroke-width="0.78" />
<line x1="56.5" y1="563.54" x2="60.8" y2="563.54" stroke="#2e2e2e" stroke-width="0.78" />
<line x1="325.4" y1="563.54" x2="321.1" y2="563.54" stroke="#2e2e2e" stroke-width="0.78" />
<line x1="56.5" y1="552.57" x2="60.8" y2="552.57" stroke="#2e2e2e" stroke-width="0.78" />
<line x1="325.4" y1="552.57" x2="321.1" y2="552.57" stroke="#2e2e2e" stroke-width="0.78" />
<line x1="56.5" y1="541.59" x2="60.8" y2="541.59" stroke="#2e2e2e" stroke-width="0.78" />
<line x1="325.4" y1="541.59" x2="321.1" y2="541.59" stroke="#2e2e2e" stroke-width="0.78" />
<line x1="56.5" y1="530.62" x2="60.8" y2="530.62" stroke="#2e2e2e" stroke-width="0.78" />
<line x1="325.4" y1="530.62" x2="321.1" y2="530.62" stroke="#2e2e2e" stroke-width="0.78" />
<text transform="translate(52.5,578.77) scale(1,1.02)" font-family='"Liberation Sans", sans-serif' font-size="11.3" text-anchor="end" font-weight="normal" font-style="normal" fill="#000" >0.05</text>
<line x1="56.5" y1="519.64" x2="64.7" y2="519.64" stroke="#2e2e2e" stroke-width="0.78" />
<line x1="325.4" y1="519.64" x2="317.2" y2="519.64" stroke="#2e2e2e" stroke-width="0.78" />
<line x1="56.5" y1="508.66" x2="60.8" y2="508.66" stroke="#2e2e2e" stroke-width="0.78" />
<line x1="325.4" y1="508.66" x2="321.1" y2="508.66" stroke="#2e2e2e" stroke-width="0.78" />
<line x1="56.5" y1="497.69" x2="60.8" y2="497.69" stroke="#2e2e2e" stroke-width="0.78" />
<line x1="325.4" y1="497.69" x2="321.1" y2="497.69" stroke="#2e2e2e" stroke-width="0.78" />
<line x1="56.5" y1="486.71" x2="60.8" y2="486.71" stroke="#2e2e2e" stroke-width="0.78" />
<line x1="325.4" y1="486.71" x2="321.1" y2="486.71" stroke="#2e2e2e" stroke-width="0.78" />
<line x1="56.5" y1="475.74" x2="60.8" y2="475.74" stroke="#2e2e2e" stroke-width="0.78" />
<line x1="325.4" y1="475.74" x2="321.1" y2="475.74" stroke="#2e2e2e" stroke-width="0.78" />
<text transform="translate(52.5,523.89) scale(1,1.02)" font-family='"Liberation Sans", sans-serif' font-size="11.3" text-anchor="end" font-weight="normal" font-style="normal" fill="#000" >0.1</text>
<line x1="56.5" y1="464.76" x2="64.7" y2="464.76" stroke="#2e2e2e" stroke-width="0.78" />
<line x1="325.4" y1="464.76" x2="317.2" y2="464.76" stroke="#2e2e2e" stroke-width="0.78" />
<line x1="56.5" y1="453.78" x2="60.8" y2="453.78" stroke="#2e2e2e" stroke-width="0.78" />
<line x1="325.4" y1="453.78" x2="321.1" y2="453.78" stroke="#2e2e2e" stroke-width="0.78" />
<line x1="56.5" y1="442.81" x2="60.8" y2="442.81" stroke="#2e2e2e" stroke-width="0.78" />
<line x1="325.4" y1="442.81" x2="321.1" y2="442.81" stroke="#2e2e2e" stroke-width="0.78" />
<line x1="56.5" y1="431.83" x2="60.8" y2="431.83" stroke="#2e2e2e" stroke-width="0.78" />
<line x1="325.4" y1="431.83" x2="321.1" y2="431.83" stroke="#2e2e2e" stroke-width="0.78" />
<line x1="56.5" y1="420.86" x2="60.8" y2="420.86" stroke="#2e2e2e" stroke-width="0.78" />
<line x1="325.4" y1="420.86" x2="321.1" y2="420.86" stroke="#2e2e2e" stroke-width="0.78" />
<text transform="translate(52.5,469.01) scale(1,1.02)" font-family='"Liberation Sans", sans-serif' font-size="11.3" text-anchor="end" font-weight="normal" font-style="normal" fill="#000" >0.15</text>
<line x1="56.5" y1="409.88" x2="64.7" y2="409.88" stroke="#2e2e2e" stroke-width="0.78" />
<line x1="325.4" y1="409.88" x2="317.2" y2="409.88" stroke="#2e2e2e" stroke-width="0.78" />
<line x1="56.5" y1="398.9" x2="60.8" y2="398.9" stroke="#2e2e2e" stroke-width="0.78" />
<line x1="325.4" y1="398.9" x2="321.1" y2="398.9" stroke="#2e2e2e" stroke-width="0.78" />
<line x1="56.5" y1="387.93" x2="60.8" y2="387.93" stroke="#2e2e2e" stroke-width="0.78" />
<line x1="325.4" y1="387.93" x2="321.1" y2="387.93" stroke="#2e2e2e" stroke-width="0.78" />
<line x1="56.5" y1="376.95" x2="60.8" y2="376.95" stroke="#2e2e2e" stroke-width="0.78" />
<line x1="325.4" y1="376.95" x2="321.1" y2="376.95" stroke="#2e2e2e" stroke-width="0.78" />
<line x1="56.5" y1="365.98" x2="60.8" y2="365.98" stroke="#2e2e2e" stroke-width="0.78" />
<line x1="325.4" y1="365.98" x2="321.1" y2="365.98" stroke="#2e2e2e" stroke-width="0.78" />
<text transform="translate(52.5,414.13) scale(1,1.02)" font-family='"Liberation Sans", sans-serif' font-size="11.3" text-anchor="end" font-weight="normal" font-style="normal" fill="#000" >0.2</text>
<line x1="56.5" y1="355" x2="64.7" y2="355" stroke="#2e2e2e" stroke-width="0.78" />
<line x1="325.4" y1="355" x2="317.2" y2="355" stroke="#2e2e2e" stroke-width="0.78" />
<text transform="translate(52.5,359.25) scale(1,1.02)" font-family='"Liberation Sans", sans-serif' font-size="11.3" text-anchor="end" font-weight="normal" font-style="normal" fill="#000" >0.25</text>
<text transform="translate(82.33,640.7) scale(1,1.02)" font-family='"Liberation Sans", sans-serif' font-size="11.3" text-anchor="middle" font-weight="normal" font-style="normal" fill="#000" >50</text>
<text transform="translate(130.71,640.7) scale(1,1.02)" font-family='"Liberation Sans", sans-serif' font-size="11.3" text-anchor="middle" font-weight="normal" font-style="normal" fill="#000" >100</text>
<text transform="translate(179.09,640.7) scale(1,1.02)" font-family='"Liberation Sans", sans-serif' font-size="11.3" text-anchor="middle" font-weight="normal" font-style="normal" fill="#000" >150</text>
<text transform="translate(227.47,640.7) scale(1,1.02)" font-family='"Liberation Sans", sans-serif' font-size="11.3" text-anchor="middle" font-weight="normal" font-style="normal" fill="#000" >200</text>
<text transform="translate(275.85,640.7) scale(1,1.02)" font-family='"Liberation Sans", sans-serif' font-size="11.3" text-anchor="middle" font-weight="normal" font-style="normal" fill="#000" >250</text>
<text transform="translate(324.23,640.7) scale(1,1.02)" font-family='"Liberation Sans", sans-serif' font-size="11.3" text-anchor="middle" font-weight="normal" font-style="normal" fill="#000" >300</text>
<text x="331.3" y="661.3" font-family='"Liberation Sans", sans-serif' font-size="13" text-anchor="end" fill="#000">p<tspan font-size="8.8" dy="6.8">T</tspan><tspan dy="-6.8"> [GeV]</tspan></text>
<g transform="translate(11.9,383.9) rotate(-90)">
<text transform="scale(1,1.08)" x="0" y="0" font-family='"Liberation Sans", sans-serif' font-size="13.5" fill="#000">F</text>
<text x="8.2" y="3.5" font-family='"Liberation Sans", sans-serif' font-size="9.2" fill="#000">e</text>
<path d="M14.0 0.6 L22.3 0.6 M19.9 -1.6 L22.3 0.6 L19.9 2.8" fill="none" stroke="#000" stroke-width="0.55"/>
<text x="22.6" y="3.5" font-family='"Liberation Serif", serif' font-size="10" fill="#000">γ</text>
</g>
<line x1="58.44" y1="542.25" x2="68.11" y2="542.25" stroke="#0000ff" stroke-width="1.0" />
<line x1="63.27" y1="536.45" x2="63.27" y2="548.05" stroke="#0000ff" stroke-width="1.0" />
<line x1="58.44" y1="541.25" x2="58.44" y2="543.25" stroke="#0000ff" stroke-width="0.8" />
<line x1="68.11" y1="541.25" x2="68.11" y2="543.25" stroke="#0000ff" stroke-width="0.8" />
<line x1="62.27" y1="536.45" x2="64.27" y2="536.45" stroke="#0000ff" stroke-width="0.8" />
<line x1="62.27" y1="548.05" x2="64.27" y2="548.05" stroke="#0000ff" stroke-width="0.8" />
<rect x="61.27" y="540.25" width="4" height="4" fill="#0000ff"/>
<line x1="68.11" y1="535.6" x2="77.79" y2="535.6" stroke="#0000ff" stroke-width="1.0" />
<line x1="72.95" y1="531.85" x2="72.95" y2="539.35" stroke="#0000ff" stroke-width="1.0" />
<line x1="68.11" y1="534.6" x2="68.11" y2="536.6" stroke="#0000ff" stroke-width="0.8" />
<line x1="77.79" y1="534.6" x2="77.79" y2="536.6" stroke="#0000ff" stroke-width="0.8" />
<line x1="71.95" y1="531.85" x2="73.95" y2="531.85" stroke="#0000ff" stroke-width="0.8" />
<line x1="71.95" y1="539.35" x2="73.95" y2="539.35" stroke="#0000ff" stroke-width="0.8" />
<rect x="70.95" y="533.6" width="4" height="4" fill="#0000ff"/>
<line x1="77.79" y1="530" x2="87.46" y2="530" stroke="#0000ff" stroke-width="1.0" />
<line x1="82.63" y1="522.2" x2="82.63" y2="537.8" stroke="#0000ff" stroke-width="1.0" />
<line x1="77.79" y1="529" x2="77.79" y2="531" stroke="#0000ff" stroke-width="0.8" />
<line x1="87.46" y1="529" x2="87.46" y2="531" stroke="#0000ff" stroke-width="0.8" />
<line x1="81.63" y1="522.2" x2="83.63" y2="522.2" stroke="#0000ff" stroke-width="0.8" />
<line x1="81.63" y1="537.8" x2="83.63" y2="537.8" stroke="#0000ff" stroke-width="0.8" />
<rect x="80.63" y="528" width="4" height="4" fill="#0000ff"/>
<line x1="87.46" y1="524.6" x2="97.14" y2="524.6" stroke="#0000ff" stroke-width="1.0" />
<line x1="92.3" y1="516.9" x2="92.3" y2="532.3" stroke="#0000ff" stroke-width="1.0" />
<line x1="87.46" y1="523.6" x2="87.46" y2="525.6" stroke="#0000ff" stroke-width="0.8" />
<line x1="97.14" y1="523.6" x2="97.14" y2="525.6" stroke="#0000ff" stroke-width="0.8" />
<line x1="91.3" y1="516.9" x2="93.3" y2="516.9" stroke="#0000ff" stroke-width="0.8" />
<line x1="91.3" y1="532.3" x2="93.3" y2="532.3" stroke="#0000ff" stroke-width="0.8" />
<rect x="90.3" y="522.6" width="4" height="4" fill="#0000ff"/>
<line x1="97.14" y1="519.75" x2="106.82" y2="519.75" stroke="#0000ff" stroke-width="1.0" />
<line x1="101.98" y1="512.45" x2="101.98" y2="527.05" stroke="#0000ff" stroke-width="1.0" />
<line x1="97.14" y1="518.75" x2="97.14" y2="520.75" stroke="#0000ff" stroke-width="0.8" />
<line x1="106.82" y1="518.75" x2="106.82" y2="520.75" stroke="#0000ff" stroke-width="0.8" />
<line x1="100.98" y1="512.45" x2="102.98" y2="512.45" stroke="#0000ff" stroke-width="0.8" />
<line x1="100.98" y1="527.05" x2="102.98" y2="527.05" stroke="#0000ff" stroke-width="0.8" />
<rect x="99.98" y="517.75" width="4" height="4" fill="#0000ff"/>
<line x1="106.82" y1="509.75" x2="121.33" y2="509.75" stroke="#0000ff" stroke-width="1.0" />
<line x1="114.07" y1="501.25" x2="114.07" y2="518.25" stroke="#0000ff" stroke-width="1.0" />
<line x1="106.82" y1="508.75" x2="106.82" y2="510.75" stroke="#0000ff" stroke-width="0.8" />
<line x1="121.33" y1="508.75" x2="121.33" y2="510.75" stroke="#0000ff" stroke-width="0.8" />
<line x1="113.07" y1="501.25" x2="115.07" y2="501.25" stroke="#0000ff" stroke-width="0.8" />
<line x1="113.07" y1="518.25" x2="115.07" y2="518.25" stroke="#0000ff" stroke-width="0.8" />
<rect x="112.07" y="507.75" width="4" height="4" fill="#0000ff"/>
<line x1="121.33" y1="504.5" x2="150.36" y2="504.5" stroke="#0000ff" stroke-width="1.0" />
<line x1="135.84" y1="497.5" x2="135.84" y2="511.5" stroke="#0000ff" stroke-width="1.0" />
<line x1="121.33" y1="503.5" x2="121.33" y2="505.5" stroke="#0000ff" stroke-width="0.8" />
<line x1="150.36" y1="503.5" x2="150.36" y2="505.5" stroke="#0000ff" stroke-width="0.8" />
<line x1="134.84" y1="497.5" x2="136.84" y2="497.5" stroke="#0000ff" stroke-width="0.8" />
<line x1="134.84" y1="511.5" x2="136.84" y2="511.5" stroke="#0000ff" stroke-width="0.8" />
<rect x="133.84" y="502.5" width="4" height="4" fill="#0000ff"/>
<line x1="150.36" y1="491.9" x2="208.41" y2="491.9" stroke="#0000ff" stroke-width="1.0" />
<line x1="179.39" y1="480.9" x2="179.39" y2="502.9" stroke="#0000ff" stroke-width="1.0" />
<line x1="150.36" y1="490.9" x2="150.36" y2="492.9" stroke="#0000ff" stroke-width="0.8" />
<line x1="208.41" y1="490.9" x2="208.41" y2="492.9" stroke="#0000ff" stroke-width="0.8" />
<line x1="178.39" y1="480.9" x2="180.39" y2="480.9" stroke="#0000ff" stroke-width="0.8" />
<line x1="178.39" y1="502.9" x2="180.39" y2="502.9" stroke="#0000ff" stroke-width="0.8" />
<rect x="177.39" y="489.9" width="4" height="4" fill="#0000ff"/>
<line x1="208.41" y1="476" x2="324.53" y2="476" stroke="#0000ff" stroke-width="1.0" />
<line x1="266.47" y1="457.3" x2="266.47" y2="494.7" stroke="#0000ff" stroke-width="1.0" />
<line x1="208.41" y1="475" x2="208.41" y2="477" stroke="#0000ff" stroke-width="0.8" />
<line x1="324.53" y1="475" x2="324.53" y2="477" stroke="#0000ff" stroke-width="0.8" />
<line x1="265.47" y1="457.3" x2="267.47" y2="457.3" stroke="#0000ff" stroke-width="0.8" />
<line x1="265.47" y1="494.7" x2="267.47" y2="494.7" stroke="#0000ff" stroke-width="0.8" />
<rect x="264.47" y="474" width="4" height="4" fill="#0000ff"/>
<line x1="58.44" y1="593" x2="68.11" y2="593" stroke="#ff0000" stroke-width="1.0" />
<line x1="63.27" y1="590" x2="63.27" y2="596" stroke="#ff0000" stroke-width="1.0" />
<line x1="58.44" y1="592" x2="58.44" y2="594" stroke="#ff0000" stroke-width="0.8" />
<line x1="68.11" y1="592" x2="68.11" y2="594" stroke="#ff0000" stroke-width="0.8" />
<line x1="62.27" y1="590" x2="64.27" y2="590" stroke="#ff0000" stroke-width="0.8" />
<line x1="62.27" y1="596" x2="64.27" y2="596" stroke="#ff0000" stroke-width="0.8" />
<circle cx="63.27" cy="593" r="2.3" fill="#ff0000"/>
<line x1="68.11" y1="596" x2="77.79" y2="596" stroke="#ff0000" stroke-width="1.0" />
<line x1="72.95" y1="593.8" x2="72.95" y2="598.2" stroke="#ff0000" stroke-width="1.0" />
<line x1="68.11" y1="595" x2="68.11" y2="597" stroke="#ff0000" stroke-width="0.8" />
<line x1="77.79" y1="595" x2="77.79" y2="597" stroke="#ff0000" stroke-width="0.8" />
<line x1="71.95" y1="593.8" x2="73.95" y2="593.8" stroke="#ff0000" stroke-width="0.8" />
<line x1="71.95" y1="598.2" x2="73.95" y2="598.2" stroke="#ff0000" stroke-width="0.8" />
<circle cx="72.95" cy="596" r="2.3" fill="#ff0000"/>
<line x1="77.79" y1="600.75" x2="87.46" y2="600.75" stroke="#ff0000" stroke-width="1.0" />
<line x1="82.63" y1="597.5" x2="82.63" y2="604" stroke="#ff0000" stroke-width="1.0" />
<line x1="77.79" y1="599.75" x2="77.79" y2="601.75" stroke="#ff0000" stroke-width="0.8" />
<line x1="87.46" y1="599.75" x2="87.46" y2="601.75" stroke="#ff0000" stroke-width="0.8" />
<line x1="81.63" y1="597.5" x2="83.63" y2="597.5" stroke="#ff0000" stroke-width="0.8" />
<line x1="81.63" y1="604" x2="83.63" y2="604" stroke="#ff0000" stroke-width="0.8" />
<circle cx="82.63" cy="600.75" r="2.3" fill="#ff0000"/>
<line x1="87.46" y1="600.4" x2="97.14" y2="600.4" stroke="#ff0000" stroke-width="1.0" />
<line x1="92.3" y1="597" x2="92.3" y2="603.8" stroke="#ff0000" stroke-width="1.0" />
<line x1="87.46" y1="599.4" x2="87.46" y2="601.4" stroke="#ff0000" stroke-width="0.8" />
<line x1="97.14" y1="599.4" x2="97.14" y2="601.4" stroke="#ff0000" stroke-width="0.8" />
<line x1="91.3" y1="597" x2="93.3" y2="597" stroke="#ff0000" stroke-width="0.8" />
<line x1="91.3" y1="603.8" x2="93.3" y2="603.8" stroke="#ff0000" stroke-width="0.8" />
<circle cx="92.3" cy="600.4" r="2.3" fill="#ff0000"/>
<line x1="97.14" y1="599.4" x2="106.82" y2="599.4" stroke="#ff0000" stroke-width="1.0" />
<line x1="101.98" y1="595.15" x2="101.98" y2="603.65" stroke="#ff0000" stroke-width="1.0" />
<line x1="97.14" y1="598.4" x2="97.14" y2="600.4" stroke="#ff0000" stroke-width="0.8" />
<line x1="106.82" y1="598.4" x2="106.82" y2="600.4" stroke="#ff0000" stroke-width="0.8" />
<line x1="100.98" y1="595.15" x2="102.98" y2="595.15" stroke="#ff0000" stroke-width="0.8" />
<line x1="100.98" y1="603.65" x2="102.98" y2="603.65" stroke="#ff0000" stroke-width="0.8" />
<circle cx="101.98" cy="599.4" r="2.3" fill="#ff0000"/>
<line x1="106.82" y1="598.5" x2="121.33" y2="598.5" stroke="#ff0000" stroke-width="1.0" />
<line x1="114.07" y1="594.6" x2="114.07" y2="602.4" stroke="#ff0000" stroke-width="1.0" />
<line x1="106.82" y1="597.5" x2="106.82" y2="599.5" stroke="#ff0000" stroke-width="0.8" />
<line x1="121.33" y1="597.5" x2="121.33" y2="599.5" stroke="#ff0000" stroke-width="0.8" />
<line x1="113.07" y1="594.6" x2="115.07" y2="594.6" stroke="#ff0000" stroke-width="0.8" />
<line x1="113.07" y1="602.4" x2="115.07" y2="602.4" stroke="#ff0000" stroke-width="0.8" />
<circle cx="114.07" cy="598.5" r="2.3" fill="#ff0000"/>
<line x1="121.33" y1="604" x2="150.36" y2="604" stroke="#ff0000" stroke-width="1.0" />
<line x1="135.84" y1="600.25" x2="135.84" y2="607.75" stroke="#ff0000" stroke-width="1.0" />
<line x1="121.33" y1="603" x2="121.33" y2="605" stroke="#ff0000" stroke-width="0.8" />
<line x1="150.36" y1="603" x2="150.36" y2="605" stroke="#ff0000" stroke-width="0.8" />
<line x1="134.84" y1="600.25" x2="136.84" y2="600.25" stroke="#ff0000" stroke-width="0.8" />
<line x1="134.84" y1="607.75" x2="136.84" y2="607.75" stroke="#ff0000" stroke-width="0.8" />
<circle cx="135.84" cy="604" r="2.3" fill="#ff0000"/>
<line x1="150.36" y1="601.7" x2="208.41" y2="601.7" stroke="#ff0000" stroke-width="1.0" />
<line x1="179.39" y1="596.5" x2="179.39" y2="606.9" stroke="#ff0000" stroke-width="1.0" />
<line x1="150.36" y1="600.7" x2="150.36" y2="602.7" stroke="#ff0000" stroke-width="0.8" />
<line x1="208.41" y1="600.7" x2="208.41" y2="602.7" stroke="#ff0000" stroke-width="0.8" />
<line x1="178.39" y1="596.5" x2="180.39" y2="596.5" stroke="#ff0000" stroke-width="0.8" />
<line x1="178.39" y1="606.9" x2="180.39" y2="606.9" stroke="#ff0000" stroke-width="0.8" />
<circle cx="179.39" cy="601.7" r="2.3" fill="#ff0000"/>
<line x1="208.41" y1="591" x2="324.53" y2="591" stroke="#ff0000" stroke-width="1.0" />
<line x1="266.47" y1="580.7" x2="266.47" y2="601.3" stroke="#ff0000" stroke-width="1.0" />
<line x1="208.41" y1="590" x2="208.41" y2="592" stroke="#ff0000" stroke-width="0.8" />
<line x1="324.53" y1="590" x2="324.53" y2="592" stroke="#ff0000" stroke-width="0.8" />
<line x1="265.47" y1="580.7" x2="267.47" y2="580.7" stroke="#ff0000" stroke-width="0.8" />
<line x1="265.47" y1="601.3" x2="267.47" y2="601.3" stroke="#ff0000" stroke-width="0.8" />
<circle cx="266.47" cy="591" r="2.3" fill="#ff0000"/>
<text x="73.6" y="377.5" font-family='"Liberation Sans", sans-serif' font-size="13.4" text-anchor="start" font-weight="bold" font-style="italic" fill="#000" letter-spacing="0.12">ATLAS</text>
<path d="M76.8 389.6 L77.8 389.1 L79 396.6 L80.9 385.8 L88 385.8" fill="none" stroke="#000" stroke-width="0.9"/>
<text x="81.5" y="396.2" font-family='"Liberation Sans", sans-serif' font-size="13.2" fill="#000">s=13 TeV,<tspan dx="1.3"> 36.1 fb</tspan><tspan font-size="8.1" dy="-6.0" dx="0.5">-1</tspan></text>
<text x="74.5" y="414.2" font-family='"Liberation Sans", sans-serif' font-size="13" fill="#000" xml:space="preserve">2.01<tspan dx="2.2">≤</tspan><tspan fill="#6a6a6a" font-size="9.8" dy="1.2">|</tspan><tspan font-family='"Liberation Serif", serif' font-size="13.5" dx="2.2" dy="-1.2">η</tspan><tspan fill="#6a6a6a" font-size="9.8" dx="2.2" dy="1.2">|</tspan><tspan dy="-1.2" dx="0.6">&lt; 2.37</tspan></text>
<line x1="78" y1="432.9" x2="109.75" y2="432.9" stroke="#0000ff" stroke-width="1.0" />
<rect x="91.88" y="430.9" width="4" height="4" fill="#0000ff"/>
<line x1="78" y1="448.8" x2="109.75" y2="448.8" stroke="#ff0000" stroke-width="1.0" />
<circle cx="93.88" cy="448.8" r="2.3" fill="#ff0000"/>
<rect x="78" y="459.3" width="31.75" height="11.2" fill="url(#hat)"/>
<text transform="translate(116.8,435.9) scale(1,1.03)" font-family='"Liberation Sans", sans-serif' font-size="9.75" text-anchor="start" font-weight="normal" font-style="normal" fill="#000" >converted</text>
<text transform="translate(116.8,451.8) scale(1,1.03)" font-family='"Liberation Sans", sans-serif' font-size="9.75" text-anchor="start" font-weight="normal" font-style="normal" fill="#000" >unconverted</text>
<text transform="translate(116.8,468.2) scale(1,1.03)" font-family='"Liberation Sans", sans-serif' font-size="9.75" text-anchor="start" font-weight="normal" font-style="normal" fill="#000" >Syst. Unc.</text>
<text x="166.3" y="435.9" font-family='"Liberation Serif", serif' font-size="10.2375" text-anchor="start" font-weight="normal" font-style="normal" fill="#000" >γ</text>
<text x="177" y="451.8" font-family='"Liberation Serif", serif' font-size="10.2375" text-anchor="start" font-weight="normal" font-style="normal" fill="#000" >γ</text>
</g>
</svg></body></html>
